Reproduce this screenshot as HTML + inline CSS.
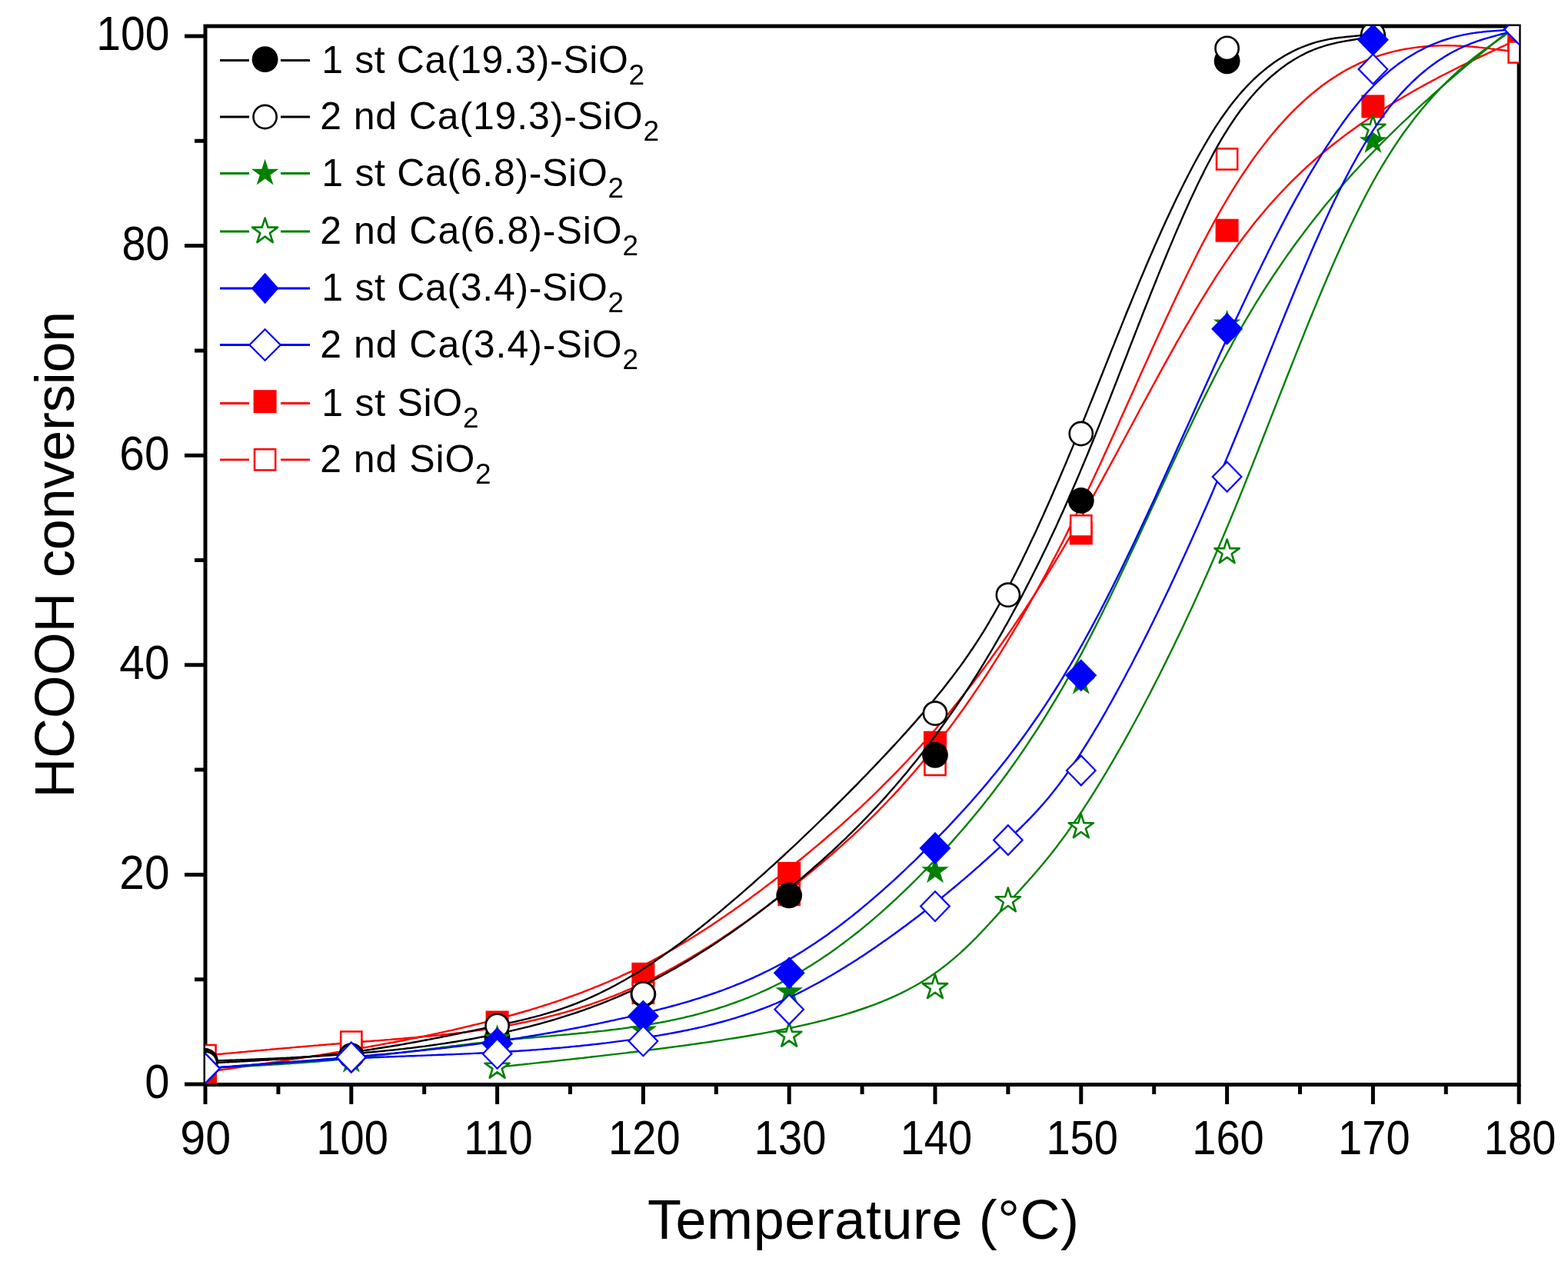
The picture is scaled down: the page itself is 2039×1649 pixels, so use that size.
<!DOCTYPE html><html><head><meta charset="utf-8"><title>HCOOH conversion vs temperature</title><style>html,body{margin:0;padding:0;background:#fff;overflow:hidden;}svg{display:block;}text{font-family:"Liberation Sans",Arial,Helvetica,sans-serif;fill:#000;}</style></head><body>
<svg width="2039" height="1649" viewBox="0 0 2039 1649">
<rect width="2039" height="1649" fill="#fff"/>
<defs><clipPath id="pa"><rect x="267" y="34" width="1708.2" height="1376.5"/></clipPath></defs>
<rect x="267" y="34" width="1708.2" height="1376.5" fill="none" stroke="#000" stroke-width="5"/>
<path d="M240,1410.0 H267 M253,1273.7 H267 M240,1137.4 H267 M253,1001.1 H267 M240,864.8 H267 M253,728.5 H267 M240,592.2 H267 M253,455.9 H267 M240,319.6 H267 M253,183.3 H267 M240,47.0 H267 M267.0,1410 V1436 M361.9,1410 V1423 M456.8,1410 V1436 M551.7,1410 V1423 M646.6,1410 V1436 M741.5,1410 V1423 M836.4,1410 V1436 M931.3,1410 V1423 M1026.2,1410 V1436 M1121.1,1410 V1423 M1216.0,1410 V1436 M1310.9,1410 V1423 M1405.8,1410 V1436 M1500.7,1410 V1423 M1595.6,1410 V1436 M1690.5,1410 V1423 M1785.4,1410 V1436 M1880.3,1410 V1423 M1975.2,1410 V1436" stroke="#000" stroke-width="5" fill="none"/>
<g clip-path="url(#pa)">
<path d="M267.0,1394.4 L267.0,1394.4 L267.0,1394.4 L267.0,1394.4 L267.0,1394.4 L267.0,1394.4 L267.0,1394.4 L267.1,1394.4 L267.1,1394.4 L267.1,1394.4 L267.2,1394.3 L267.3,1394.3 L267.3,1394.3 L267.4,1394.3 L267.5,1394.3 L267.7,1394.3 L267.8,1394.3 L268.0,1394.2 L268.1,1394.2 L268.3,1394.2 L268.6,1394.2 L268.8,1394.1 L269.1,1394.1 L269.4,1394.0 L269.7,1394.0 L270.1,1393.9 L270.4,1393.9 L270.9,1393.8 L271.3,1393.8 L271.8,1393.7 L272.3,1393.6 L272.8,1393.5 L273.4,1393.4 L274.0,1393.4 L274.7,1393.3 L275.4,1393.2 L276.1,1393.1 L276.9,1392.9 L277.7,1392.8 L278.6,1392.7 L279.5,1392.6 L280.5,1392.4 L281.5,1392.3 L282.6,1392.1 L283.7,1392.0 L284.9,1391.8 L286.1,1391.6 L287.3,1391.4 L288.7,1391.2 L290.0,1391.0 L291.5,1390.8 L293.0,1390.6 L294.5,1390.4 L296.2,1390.2 L297.8,1389.9 L299.6,1389.7 L301.4,1389.4 L303.3,1389.1 L305.2,1388.9 L307.2,1388.6 L309.2,1388.3 L311.4,1388.0 L313.5,1387.6 L315.7,1387.3 L318.0,1387.0 L320.3,1386.6 L322.7,1386.3 L325.1,1385.9 L327.6,1385.6 L330.2,1385.2 L332.7,1384.8 L335.3,1384.4 L338.0,1384.0 L340.7,1383.6 L343.5,1383.2 L346.2,1382.8 L349.1,1382.4 L351.9,1382.0 L354.9,1381.5 L357.8,1381.1 L360.8,1380.6 L363.8,1380.2 L366.8,1379.7 L369.9,1379.3 L373.0,1378.8 L376.1,1378.3 L379.3,1377.8 L382.5,1377.3 L385.7,1376.8 L389.0,1376.3 L392.2,1375.8 L395.5,1375.3 L398.8,1374.8 L402.1,1374.2 L405.5,1373.7 L408.8,1373.2 L412.2,1372.6 L415.6,1372.1 L419.0,1371.5 L422.5,1371.0 L425.9,1370.4 L429.3,1369.9 L432.8,1369.3 L436.2,1368.7 L439.7,1368.1 L443.2,1367.6 L446.7,1367.0 L450.1,1366.4 L453.6,1365.8 L457.1,1365.2 L460.6,1364.6 L464.1,1364.0 L467.6,1363.4 L471.1,1362.8 L474.5,1362.2 L478.0,1361.6 L481.5,1360.9 L485.0,1360.3 L488.5,1359.7 L492.0,1359.1 L495.5,1358.4 L498.9,1357.8 L502.4,1357.1 L505.9,1356.5 L509.4,1355.8 L512.9,1355.2 L516.4,1354.5 L519.9,1353.8 L523.3,1353.2 L526.8,1352.5 L530.3,1351.8 L533.8,1351.1 L537.3,1350.4 L540.8,1349.7 L544.3,1349.0 L547.7,1348.3 L551.2,1347.6 L554.7,1346.9 L558.2,1346.1 L561.7,1345.4 L565.2,1344.6 L568.7,1343.9 L572.1,1343.1 L575.6,1342.4 L579.1,1341.6 L582.6,1340.8 L586.1,1340.1 L589.6,1339.3 L593.1,1338.5 L596.5,1337.7 L600.0,1336.9 L603.5,1336.0 L607.0,1335.2 L610.5,1334.4 L614.0,1333.5 L617.4,1332.7 L620.9,1331.8 L624.4,1331.0 L627.9,1330.1 L631.4,1329.2 L634.9,1328.3 L638.4,1327.4 L641.8,1326.5 L645.3,1325.6 L648.8,1324.7 L652.3,1323.8 L655.8,1322.8 L659.3,1321.9 L662.8,1320.9 L666.2,1320.0 L669.7,1319.0 L673.2,1318.0 L676.7,1317.0 L680.2,1316.0 L683.7,1315.0 L687.2,1314.0 L690.6,1312.9 L694.1,1311.9 L697.6,1310.8 L701.1,1309.7 L704.6,1308.6 L708.1,1307.5 L711.6,1306.4 L715.0,1305.3 L718.5,1304.1 L722.0,1303.0 L725.5,1301.8 L729.0,1300.6 L732.5,1299.4 L736.0,1298.2 L739.4,1297.0 L742.9,1295.7 L746.4,1294.5 L749.9,1293.2 L753.4,1291.9 L756.9,1290.6 L760.4,1289.2 L763.8,1287.9 L767.3,1286.5 L770.8,1285.1 L774.3,1283.7 L777.8,1282.3 L781.3,1280.9 L784.8,1279.4 L788.2,1278.0 L791.7,1276.5 L795.2,1274.9 L798.7,1273.4 L802.2,1271.9 L805.7,1270.3 L809.1,1268.7 L812.6,1267.1 L816.1,1265.4 L819.6,1263.8 L823.1,1262.1 L826.6,1260.4 L830.1,1258.7 L833.5,1256.9 L837.0,1255.1 L840.5,1253.4 L844.0,1251.5 L847.5,1249.7 L851.0,1247.8 L854.5,1246.0 L857.9,1244.0 L861.4,1242.1 L864.9,1240.2 L868.4,1238.2 L871.9,1236.2 L875.4,1234.2 L878.9,1232.2 L882.3,1230.1 L885.8,1228.0 L889.3,1225.9 L892.8,1223.8 L896.3,1221.7 L899.8,1219.5 L903.3,1217.3 L906.7,1215.2 L910.2,1212.9 L913.7,1210.7 L917.2,1208.5 L920.7,1206.2 L924.2,1203.9 L927.7,1201.6 L931.1,1199.3 L934.6,1196.9 L938.1,1194.5 L941.6,1192.2 L945.1,1189.8 L948.6,1187.3 L952.1,1184.9 L955.5,1182.5 L959.0,1180.0 L962.5,1177.5 L966.0,1175.0 L969.5,1172.5 L973.0,1170.0 L976.5,1167.4 L979.9,1164.8 L983.4,1162.3 L986.9,1159.7 L990.4,1157.1 L993.9,1154.4 L997.4,1151.8 L1000.9,1149.1 L1004.3,1146.5 L1007.8,1143.8 L1011.3,1141.1 L1014.8,1138.4 L1018.3,1135.6 L1021.8,1132.9 L1025.2,1130.1 L1028.7,1127.4 L1032.2,1124.6 L1035.7,1121.8 L1039.2,1119.0 L1042.7,1116.2 L1046.2,1113.3 L1049.6,1110.5 L1053.1,1107.6 L1056.6,1104.7 L1060.1,1101.8 L1063.6,1098.9 L1067.1,1096.0 L1070.6,1093.0 L1074.0,1090.0 L1077.5,1087.0 L1081.0,1084.0 L1084.5,1081.0 L1088.0,1078.0 L1091.5,1074.9 L1095.0,1071.8 L1098.4,1068.7 L1101.9,1065.6 L1105.4,1062.4 L1108.9,1059.2 L1112.4,1056.0 L1115.9,1052.8 L1119.4,1049.6 L1122.8,1046.3 L1126.3,1043.0 L1129.8,1039.7 L1133.3,1036.3 L1136.8,1033.0 L1140.3,1029.6 L1143.8,1026.2 L1147.2,1022.7 L1150.7,1019.2 L1154.2,1015.7 L1157.7,1012.2 L1161.2,1008.7 L1164.7,1005.1 L1168.2,1001.5 L1171.6,997.8 L1175.1,994.2 L1178.6,990.5 L1182.1,986.7 L1185.6,983.0 L1189.1,979.2 L1192.6,975.3 L1196.0,971.5 L1199.5,967.6 L1203.0,963.7 L1206.5,959.7 L1210.0,955.7 L1213.5,951.7 L1217.0,947.7 L1220.4,943.6 L1223.9,939.5 L1227.4,935.3 L1230.9,931.1 L1234.4,926.9 L1237.9,922.6 L1241.3,918.3 L1244.8,914.0 L1248.3,909.6 L1251.8,905.2 L1255.3,900.8 L1258.8,896.3 L1262.3,891.8 L1265.7,887.2 L1269.2,882.6 L1272.7,878.0 L1276.2,873.3 L1279.7,868.7 L1283.2,863.9 L1286.7,859.2 L1290.1,854.3 L1293.6,849.5 L1297.1,844.6 L1300.6,839.7 L1304.1,834.8 L1307.6,829.8 L1311.1,824.7 L1314.5,819.7 L1318.0,814.6 L1321.5,809.4 L1325.0,804.2 L1328.5,799.0 L1332.0,793.8 L1335.5,788.5 L1338.9,783.1 L1342.4,777.8 L1345.9,772.4 L1349.4,766.9 L1352.9,761.4 L1356.4,755.9 L1359.9,750.3 L1363.3,744.7 L1366.8,739.1 L1370.3,733.4 L1373.8,727.6 L1377.3,721.9 L1380.8,716.1 L1384.3,710.2 L1387.7,704.3 L1391.2,698.4 L1394.7,692.5 L1398.2,686.4 L1401.7,680.4 L1405.2,674.3 L1408.7,668.2 L1412.1,662.0 L1415.6,655.8 L1419.1,649.6 L1422.6,643.3 L1426.1,637.0 L1429.6,630.7 L1433.1,624.3 L1436.5,617.9 L1440.0,611.5 L1443.5,605.1 L1447.0,598.7 L1450.5,592.2 L1454.0,585.7 L1457.4,579.3 L1460.9,572.8 L1464.4,566.3 L1467.9,559.8 L1471.4,553.3 L1474.9,546.8 L1478.4,540.3 L1481.8,533.8 L1485.3,527.3 L1488.8,520.8 L1492.3,514.4 L1495.8,507.9 L1499.3,501.5 L1502.8,495.1 L1506.2,488.7 L1509.7,482.3 L1513.2,475.9 L1516.7,469.6 L1520.2,463.3 L1523.7,457.1 L1527.2,450.8 L1530.6,444.6 L1534.1,438.5 L1537.6,432.4 L1541.1,426.3 L1544.6,420.3 L1548.1,414.3 L1551.6,408.3 L1555.0,402.4 L1558.5,396.6 L1562.0,390.8 L1565.5,385.1 L1569.0,379.5 L1572.5,373.9 L1576.0,368.3 L1579.4,362.8 L1582.9,357.4 L1586.4,352.1 L1589.9,346.9 L1593.4,341.7 L1596.9,336.6 L1600.4,331.5 L1603.8,326.6 L1607.3,321.7 L1610.8,316.9 L1614.3,312.2 L1617.8,307.5 L1621.3,302.9 L1624.8,298.4 L1628.2,294.0 L1631.7,289.6 L1635.2,285.3 L1638.7,281.1 L1642.2,276.9 L1645.7,272.8 L1649.1,268.8 L1652.6,264.8 L1656.1,260.9 L1659.6,257.0 L1663.1,253.2 L1666.6,249.5 L1670.1,245.8 L1673.5,242.2 L1677.0,238.6 L1680.5,235.1 L1684.0,231.7 L1687.5,228.3 L1691.0,224.9 L1694.5,221.7 L1697.9,218.4 L1701.4,215.2 L1704.9,212.1 L1708.4,209.0 L1711.9,205.9 L1715.4,202.9 L1718.9,199.9 L1722.3,197.0 L1725.8,194.2 L1729.3,191.3 L1732.8,188.5 L1736.3,185.8 L1739.8,183.1 L1743.3,180.4 L1746.7,177.7 L1750.2,175.1 L1753.7,172.6 L1757.2,170.0 L1760.7,167.5 L1764.2,165.0 L1767.7,162.6 L1771.1,160.2 L1774.6,157.8 L1778.1,155.5 L1781.6,153.1 L1785.1,150.8 L1788.6,148.5 L1792.1,146.3 L1795.5,144.1 L1799.0,141.9 L1802.5,139.7 L1806.0,137.5 L1809.4,135.4 L1812.9,133.3 L1816.3,131.2 L1819.7,129.2 L1823.2,127.2 L1826.6,125.2 L1830.0,123.2 L1833.4,121.2 L1836.7,119.3 L1840.1,117.4 L1843.4,115.5 L1846.7,113.7 L1850.0,111.9 L1853.2,110.1 L1856.5,108.3 L1859.7,106.6 L1862.9,104.9 L1866.1,103.2 L1869.2,101.5 L1872.3,99.9 L1875.4,98.3 L1878.4,96.7 L1881.4,95.2 L1884.4,93.7 L1887.3,92.2 L1890.3,90.7 L1893.1,89.3 L1896.0,87.9 L1898.7,86.5 L1901.5,85.1 L1904.2,83.8 L1906.9,82.5 L1909.5,81.2 L1912.0,80.0 L1914.6,78.8 L1917.1,77.6 L1919.5,76.4 L1921.9,75.3 L1924.2,74.2 L1926.5,73.1 L1928.7,72.1 L1930.8,71.1 L1933.0,70.1 L1935.0,69.1 L1937.0,68.2 L1938.9,67.3 L1940.8,66.4 L1942.6,65.6 L1944.4,64.8 L1946.0,64.0 L1947.7,63.3 L1949.2,62.5 L1950.7,61.8 L1952.2,61.2 L1953.5,60.5 L1954.9,59.9 L1956.1,59.3 L1957.3,58.8 L1958.5,58.2 L1959.6,57.7 L1960.7,57.2 L1961.7,56.8 L1962.7,56.3 L1963.6,55.9 L1964.5,55.5 L1965.3,55.1 L1966.1,54.7 L1966.8,54.4 L1967.5,54.1 L1968.2,53.8 L1968.8,53.5 L1969.4,53.2 L1969.9,53.0 L1970.4,52.7 L1970.9,52.5 L1971.3,52.3 L1971.8,52.1 L1972.1,51.9 L1972.5,51.8 L1972.8,51.6 L1973.1,51.5 L1973.4,51.3 L1973.6,51.2 L1973.9,51.1 L1974.1,51.0 L1974.2,50.9 L1974.4,50.9 L1974.5,50.8 L1974.7,50.8 L1974.8,50.7 L1974.9,50.7 L1974.9,50.6 L1975.0,50.6 L1975.1,50.6 L1975.1,50.5 L1975.1,50.5 L1975.2,50.5 L1975.2,50.5 L1975.2,50.5 L1975.2,50.5 L1975.2,50.5 L1975.2,50.5 L1975.2,50.5" fill="none" stroke="#ff0000" stroke-width="2.4" stroke-linejoin="round"/>
<rect x="252.0" y="1379.4" width="30" height="30" fill="#ff0000"/>
<rect x="441.8" y="1351.9" width="30" height="30" fill="#ff0000"/>
<rect x="631.6" y="1314.5" width="30" height="30" fill="#ff0000"/>
<rect x="821.4" y="1251.8" width="30" height="30" fill="#ff0000"/>
<rect x="1011.2" y="1120.9" width="30" height="30" fill="#ff0000"/>
<rect x="1201.0" y="950.8" width="30" height="30" fill="#ff0000"/>
<rect x="1390.8" y="678.4" width="30" height="30" fill="#ff0000"/>
<rect x="1580.6" y="284.7" width="30" height="30" fill="#ff0000"/>
<rect x="1770.4" y="123.4" width="30" height="30" fill="#ff0000"/>
<rect x="1960.2" y="35.5" width="30" height="30" fill="#ff0000"/>
<path d="M267.0,1372.6 L267.0,1372.6 L267.0,1372.6 L267.0,1372.6 L267.0,1372.6 L267.0,1372.6 L267.0,1372.6 L267.1,1372.6 L267.1,1372.6 L267.1,1372.6 L267.2,1372.6 L267.3,1372.6 L267.3,1372.6 L267.4,1372.5 L267.5,1372.5 L267.7,1372.5 L267.8,1372.5 L268.0,1372.5 L268.1,1372.5 L268.3,1372.5 L268.6,1372.4 L268.8,1372.4 L269.1,1372.4 L269.4,1372.4 L269.7,1372.3 L270.1,1372.3 L270.4,1372.3 L270.9,1372.2 L271.3,1372.2 L271.8,1372.1 L272.3,1372.1 L272.8,1372.0 L273.4,1372.0 L274.0,1371.9 L274.7,1371.9 L275.4,1371.8 L276.1,1371.7 L276.9,1371.7 L277.7,1371.6 L278.6,1371.5 L279.5,1371.4 L280.5,1371.3 L281.5,1371.2 L282.6,1371.1 L283.7,1371.0 L284.9,1370.9 L286.1,1370.8 L287.3,1370.7 L288.7,1370.6 L290.0,1370.5 L291.5,1370.3 L293.0,1370.2 L294.5,1370.0 L296.2,1369.9 L297.8,1369.7 L299.6,1369.6 L301.4,1369.4 L303.3,1369.2 L305.2,1369.1 L307.2,1368.9 L309.2,1368.7 L311.4,1368.5 L313.5,1368.3 L315.7,1368.1 L318.0,1367.9 L320.3,1367.7 L322.7,1367.4 L325.1,1367.2 L327.6,1367.0 L330.2,1366.8 L332.7,1366.5 L335.3,1366.3 L338.0,1366.1 L340.7,1365.8 L343.5,1365.6 L346.2,1365.3 L349.1,1365.1 L351.9,1364.8 L354.9,1364.5 L357.8,1364.3 L360.8,1364.0 L363.8,1363.7 L366.8,1363.5 L369.9,1363.2 L373.0,1362.9 L376.1,1362.7 L379.3,1362.4 L382.5,1362.1 L385.7,1361.8 L389.0,1361.5 L392.2,1361.3 L395.5,1361.0 L398.8,1360.7 L402.1,1360.4 L405.5,1360.1 L408.8,1359.8 L412.2,1359.6 L415.6,1359.3 L419.0,1359.0 L422.5,1358.7 L425.9,1358.4 L429.3,1358.1 L432.8,1357.8 L436.2,1357.6 L439.7,1357.3 L443.2,1357.0 L446.7,1356.7 L450.1,1356.4 L453.6,1356.2 L457.1,1355.9 L460.6,1355.6 L464.1,1355.3 L467.6,1355.1 L471.1,1354.8 L474.5,1354.5 L478.0,1354.2 L481.5,1354.0 L485.0,1353.7 L488.5,1353.4 L492.0,1353.2 L495.5,1352.9 L498.9,1352.6 L502.4,1352.3 L505.9,1352.1 L509.4,1351.8 L512.9,1351.5 L516.4,1351.2 L519.9,1350.9 L523.3,1350.6 L526.8,1350.3 L530.3,1350.0 L533.8,1349.7 L537.3,1349.4 L540.8,1349.1 L544.3,1348.8 L547.7,1348.5 L551.2,1348.1 L554.7,1347.8 L558.2,1347.5 L561.7,1347.1 L565.2,1346.8 L568.7,1346.4 L572.1,1346.1 L575.6,1345.7 L579.1,1345.3 L582.6,1344.9 L586.1,1344.5 L589.6,1344.1 L593.1,1343.7 L596.5,1343.3 L600.0,1342.9 L603.5,1342.4 L607.0,1342.0 L610.5,1341.5 L614.0,1341.0 L617.4,1340.5 L620.9,1340.1 L624.4,1339.6 L627.9,1339.0 L631.4,1338.5 L634.9,1338.0 L638.4,1337.4 L641.8,1336.9 L645.3,1336.3 L648.8,1335.7 L652.3,1335.1 L655.8,1334.5 L659.3,1333.9 L662.8,1333.2 L666.2,1332.6 L669.7,1331.9 L673.2,1331.2 L676.7,1330.5 L680.2,1329.8 L683.7,1329.1 L687.2,1328.3 L690.6,1327.5 L694.1,1326.8 L697.6,1326.0 L701.1,1325.2 L704.6,1324.3 L708.1,1323.5 L711.6,1322.6 L715.0,1321.7 L718.5,1320.8 L722.0,1319.9 L725.5,1319.0 L729.0,1318.0 L732.5,1317.1 L736.0,1316.1 L739.4,1315.1 L742.9,1314.0 L746.4,1313.0 L749.9,1311.9 L753.4,1310.8 L756.9,1309.7 L760.4,1308.6 L763.8,1307.5 L767.3,1306.3 L770.8,1305.1 L774.3,1303.9 L777.8,1302.7 L781.3,1301.4 L784.8,1300.1 L788.2,1298.8 L791.7,1297.5 L795.2,1296.2 L798.7,1294.8 L802.2,1293.4 L805.7,1292.0 L809.1,1290.6 L812.6,1289.1 L816.1,1287.6 L819.6,1286.1 L823.1,1284.6 L826.6,1283.0 L830.1,1281.4 L833.5,1279.8 L837.0,1278.2 L840.5,1276.5 L844.0,1274.8 L847.5,1273.1 L851.0,1271.4 L854.5,1269.6 L857.9,1267.8 L861.4,1266.0 L864.9,1264.2 L868.4,1262.3 L871.9,1260.4 L875.4,1258.5 L878.9,1256.6 L882.3,1254.6 L885.8,1252.6 L889.3,1250.6 L892.8,1248.6 L896.3,1246.6 L899.8,1244.5 L903.3,1242.4 L906.7,1240.3 L910.2,1238.2 L913.7,1236.0 L917.2,1233.9 L920.7,1231.7 L924.2,1229.4 L927.7,1227.2 L931.1,1225.0 L934.6,1222.7 L938.1,1220.4 L941.6,1218.1 L945.1,1215.7 L948.6,1213.4 L952.1,1211.0 L955.5,1208.6 L959.0,1206.2 L962.5,1203.8 L966.0,1201.4 L969.5,1198.9 L973.0,1196.4 L976.5,1193.9 L979.9,1191.4 L983.4,1188.9 L986.9,1186.3 L990.4,1183.8 L993.9,1181.2 L997.4,1178.6 L1000.9,1176.0 L1004.3,1173.4 L1007.8,1170.7 L1011.3,1168.1 L1014.8,1165.4 L1018.3,1162.7 L1021.8,1160.0 L1025.2,1157.3 L1028.7,1154.6 L1032.2,1151.8 L1035.7,1149.1 L1039.2,1146.3 L1042.7,1143.5 L1046.2,1140.7 L1049.6,1137.9 L1053.1,1135.0 L1056.6,1132.2 L1060.1,1129.3 L1063.6,1126.4 L1067.1,1123.5 L1070.6,1120.5 L1074.0,1117.6 L1077.5,1114.6 L1081.0,1111.6 L1084.5,1108.5 L1088.0,1105.5 L1091.5,1102.4 L1095.0,1099.3 L1098.4,1096.2 L1101.9,1093.0 L1105.4,1089.8 L1108.9,1086.6 L1112.4,1083.4 L1115.9,1080.1 L1119.4,1076.8 L1122.8,1073.5 L1126.3,1070.1 L1129.8,1066.7 L1133.3,1063.3 L1136.8,1059.8 L1140.3,1056.3 L1143.8,1052.8 L1147.2,1049.2 L1150.7,1045.6 L1154.2,1042.0 L1157.7,1038.3 L1161.2,1034.6 L1164.7,1030.9 L1168.2,1027.1 L1171.6,1023.2 L1175.1,1019.4 L1178.6,1015.5 L1182.1,1011.5 L1185.6,1007.5 L1189.1,1003.5 L1192.6,999.4 L1196.0,995.3 L1199.5,991.2 L1203.0,987.0 L1206.5,982.7 L1210.0,978.4 L1213.5,974.1 L1217.0,969.7 L1220.4,965.2 L1223.9,960.7 L1227.4,956.2 L1230.9,951.6 L1234.4,947.0 L1237.9,942.3 L1241.3,937.6 L1244.8,932.8 L1248.3,928.0 L1251.8,923.1 L1255.3,918.2 L1258.8,913.2 L1262.3,908.2 L1265.7,903.1 L1269.2,898.0 L1272.7,892.8 L1276.2,887.6 L1279.7,882.3 L1283.2,877.0 L1286.7,871.6 L1290.1,866.2 L1293.6,860.7 L1297.1,855.2 L1300.6,849.6 L1304.1,843.9 L1307.6,838.3 L1311.1,832.5 L1314.5,826.7 L1318.0,820.9 L1321.5,815.0 L1325.0,809.1 L1328.5,803.1 L1332.0,797.0 L1335.5,790.9 L1338.9,784.7 L1342.4,778.5 L1345.9,772.3 L1349.4,766.0 L1352.9,759.6 L1356.4,753.2 L1359.9,746.7 L1363.3,740.2 L1366.8,733.6 L1370.3,726.9 L1373.8,720.2 L1377.3,713.5 L1380.8,706.7 L1384.3,699.8 L1387.7,692.9 L1391.2,685.9 L1394.7,678.9 L1398.2,671.8 L1401.7,664.7 L1405.2,657.5 L1408.7,650.2 L1412.1,642.9 L1415.6,635.6 L1419.1,628.2 L1422.6,620.7 L1426.1,613.3 L1429.6,605.7 L1433.1,598.2 L1436.5,590.6 L1440.0,582.9 L1443.5,575.3 L1447.0,567.6 L1450.5,559.9 L1454.0,552.2 L1457.4,544.5 L1460.9,536.7 L1464.4,529.0 L1467.9,521.2 L1471.4,513.5 L1474.9,505.7 L1478.4,497.9 L1481.8,490.2 L1485.3,482.5 L1488.8,474.7 L1492.3,467.0 L1495.8,459.3 L1499.3,451.6 L1502.8,444.0 L1506.2,436.3 L1509.7,428.7 L1513.2,421.2 L1516.7,413.6 L1520.2,406.2 L1523.7,398.7 L1527.2,391.3 L1530.6,383.9 L1534.1,376.6 L1537.6,369.4 L1541.1,362.2 L1544.6,355.0 L1548.1,348.0 L1551.6,341.0 L1555.0,334.0 L1558.5,327.1 L1562.0,320.3 L1565.5,313.6 L1569.0,307.0 L1572.5,300.4 L1576.0,294.0 L1579.4,287.6 L1582.9,281.3 L1586.4,275.1 L1589.9,269.0 L1593.4,263.0 L1596.9,257.1 L1600.4,251.3 L1603.8,245.6 L1607.3,240.1 L1610.8,234.6 L1614.3,229.2 L1617.8,224.0 L1621.3,218.8 L1624.8,213.7 L1628.2,208.7 L1631.7,203.9 L1635.2,199.1 L1638.7,194.4 L1642.2,189.9 L1645.7,185.4 L1649.1,181.0 L1652.6,176.7 L1656.1,172.5 L1659.6,168.4 L1663.1,164.4 L1666.6,160.4 L1670.1,156.6 L1673.5,152.8 L1677.0,149.2 L1680.5,145.6 L1684.0,142.1 L1687.5,138.7 L1691.0,135.4 L1694.5,132.2 L1697.9,129.0 L1701.4,126.0 L1704.9,123.0 L1708.4,120.1 L1711.9,117.3 L1715.4,114.5 L1718.9,111.8 L1722.3,109.3 L1725.8,106.8 L1729.3,104.3 L1732.8,102.0 L1736.3,99.7 L1739.8,97.5 L1743.3,95.4 L1746.7,93.3 L1750.2,91.3 L1753.7,89.4 L1757.2,87.5 L1760.7,85.8 L1764.2,84.1 L1767.7,82.4 L1771.1,80.8 L1774.6,79.3 L1778.1,77.9 L1781.6,76.5 L1785.1,75.2 L1788.6,74.0 L1792.1,72.8 L1795.5,71.6 L1799.0,70.6 L1802.5,69.6 L1806.0,68.6 L1809.4,67.7 L1812.9,66.9 L1816.3,66.1 L1819.7,65.3 L1823.2,64.6 L1826.6,64.0 L1830.0,63.4 L1833.4,62.9 L1836.7,62.4 L1840.1,61.9 L1843.4,61.5 L1846.7,61.1 L1850.0,60.8 L1853.2,60.5 L1856.5,60.2 L1859.7,60.0 L1862.9,59.8 L1866.1,59.6 L1869.2,59.5 L1872.3,59.4 L1875.4,59.4 L1878.4,59.3 L1881.4,59.3 L1884.4,59.3 L1887.3,59.4 L1890.3,59.4 L1893.1,59.5 L1896.0,59.6 L1898.7,59.7 L1901.5,59.9 L1904.2,60.0 L1906.9,60.2 L1909.5,60.4 L1912.0,60.6 L1914.6,60.8 L1917.1,61.0 L1919.5,61.2 L1921.9,61.4 L1924.2,61.7 L1926.5,61.9 L1928.7,62.2 L1930.8,62.4 L1933.0,62.6 L1935.0,62.9 L1937.0,63.1 L1938.9,63.4 L1940.8,63.6 L1942.6,63.8 L1944.4,64.1 L1946.0,64.3 L1947.7,64.5 L1949.2,64.7 L1950.7,64.9 L1952.2,65.0 L1953.5,65.2 L1954.9,65.4 L1956.1,65.5 L1957.3,65.7 L1958.5,65.8 L1959.6,66.0 L1960.7,66.1 L1961.7,66.2 L1962.7,66.4 L1963.6,66.5 L1964.5,66.6 L1965.3,66.7 L1966.1,66.8 L1966.8,66.9 L1967.5,67.0 L1968.2,67.1 L1968.8,67.1 L1969.4,67.2 L1969.9,67.3 L1970.4,67.4 L1970.9,67.4 L1971.3,67.5 L1971.8,67.5 L1972.1,67.6 L1972.5,67.6 L1972.8,67.7 L1973.1,67.7 L1973.4,67.7 L1973.6,67.8 L1973.9,67.8 L1974.1,67.8 L1974.2,67.8 L1974.4,67.9 L1974.5,67.9 L1974.7,67.9 L1974.8,67.9 L1974.9,67.9 L1974.9,67.9 L1975.0,67.9 L1975.1,67.9 L1975.1,67.9 L1975.1,68.0 L1975.2,68.0 L1975.2,68.0 L1975.2,68.0 L1975.2,68.0 L1975.2,68.0 L1975.2,68.0 L1975.2,68.0" fill="none" stroke="#ff0000" stroke-width="2.4" stroke-linejoin="round"/>
<rect x="253.4" y="1359.0" width="27.2" height="27.2" fill="#fff" stroke="#ff0000" stroke-width="2.5"/>
<rect x="443.2" y="1341.5" width="27.2" height="27.2" fill="#fff" stroke="#ff0000" stroke-width="2.5"/>
<rect x="633.0" y="1328.9" width="27.2" height="27.2" fill="#fff" stroke="#ff0000" stroke-width="2.5"/>
<rect x="822.8" y="1277.6" width="27.2" height="27.2" fill="#fff" stroke="#ff0000" stroke-width="2.5"/>
<rect x="1012.6" y="1149.8" width="27.2" height="27.2" fill="#fff" stroke="#ff0000" stroke-width="2.5"/>
<rect x="1202.4" y="980.9" width="27.2" height="27.2" fill="#fff" stroke="#ff0000" stroke-width="2.5"/>
<rect x="1392.2" y="670.3" width="27.2" height="27.2" fill="#fff" stroke="#ff0000" stroke-width="2.5"/>
<rect x="1582.0" y="193.3" width="27.2" height="27.2" fill="#fff" stroke="#ff0000" stroke-width="2.5"/>
<rect x="1961.6" y="54.4" width="27.2" height="27.2" fill="#fff" stroke="#ff0000" stroke-width="2.5"/>
<path d="M267.0,1380.0 L267.0,1380.0 L267.0,1380.0 L267.0,1380.0 L267.0,1380.0 L267.0,1380.0 L267.0,1380.0 L267.1,1380.0 L267.1,1380.0 L267.1,1380.0 L267.1,1380.0 L267.2,1380.0 L267.3,1380.0 L267.3,1380.0 L267.4,1380.0 L267.5,1380.0 L267.6,1379.9 L267.7,1379.9 L267.9,1379.9 L268.0,1379.9 L268.2,1379.9 L268.4,1379.9 L268.6,1379.9 L268.8,1379.9 L269.0,1379.9 L269.3,1379.9 L269.6,1379.9 L269.9,1379.9 L270.2,1379.9 L270.6,1379.8 L271.0,1379.8 L271.4,1379.8 L271.8,1379.8 L272.3,1379.8 L272.8,1379.8 L273.3,1379.7 L273.9,1379.7 L274.5,1379.7 L275.1,1379.7 L275.7,1379.7 L276.4,1379.6 L277.1,1379.6 L277.9,1379.6 L278.7,1379.5 L279.5,1379.5 L280.4,1379.5 L281.3,1379.5 L282.3,1379.4 L283.3,1379.4 L284.3,1379.3 L285.4,1379.3 L286.5,1379.3 L287.7,1379.2 L288.9,1379.2 L290.2,1379.1 L291.5,1379.1 L292.8,1379.0 L294.3,1379.0 L295.7,1378.9 L297.2,1378.9 L298.8,1378.8 L300.4,1378.8 L302.1,1378.7 L303.8,1378.6 L305.6,1378.6 L307.4,1378.5 L309.2,1378.4 L311.2,1378.4 L313.1,1378.3 L315.1,1378.2 L317.2,1378.1 L319.3,1378.1 L321.4,1378.0 L323.6,1377.9 L325.8,1377.8 L328.1,1377.7 L330.4,1377.6 L332.7,1377.5 L335.1,1377.4 L337.5,1377.3 L340.0,1377.2 L342.5,1377.1 L345.0,1377.0 L347.5,1376.9 L350.1,1376.8 L352.7,1376.7 L355.4,1376.6 L358.1,1376.4 L360.8,1376.3 L363.5,1376.2 L366.3,1376.0 L369.1,1375.9 L371.9,1375.8 L374.7,1375.6 L377.6,1375.5 L380.5,1375.3 L383.4,1375.2 L386.3,1375.0 L389.2,1374.9 L392.2,1374.7 L395.2,1374.5 L398.2,1374.4 L401.2,1374.2 L404.3,1374.0 L407.3,1373.8 L410.4,1373.7 L413.5,1373.5 L416.6,1373.3 L419.7,1373.1 L422.8,1372.9 L425.9,1372.7 L429.0,1372.5 L432.2,1372.2 L435.3,1372.0 L438.5,1371.8 L441.6,1371.6 L444.8,1371.4 L447.9,1371.1 L451.1,1370.9 L454.3,1370.6 L457.4,1370.4 L460.6,1370.1 L463.8,1369.9 L466.9,1369.6 L470.1,1369.4 L473.3,1369.1 L476.4,1368.8 L479.6,1368.5 L482.8,1368.3 L486.0,1368.0 L489.1,1367.7 L492.3,1367.4 L495.5,1367.1 L498.6,1366.8 L501.8,1366.4 L505.0,1366.1 L508.1,1365.8 L511.3,1365.5 L514.5,1365.1 L517.6,1364.8 L520.8,1364.4 L524.0,1364.1 L527.1,1363.7 L530.3,1363.3 L533.5,1363.0 L536.6,1362.6 L539.8,1362.2 L543.0,1361.8 L546.2,1361.4 L549.3,1361.0 L552.5,1360.6 L555.7,1360.1 L558.8,1359.7 L562.0,1359.3 L565.2,1358.8 L568.3,1358.4 L571.5,1357.9 L574.7,1357.4 L577.8,1357.0 L581.0,1356.5 L584.2,1356.0 L587.3,1355.5 L590.5,1355.0 L593.7,1354.5 L596.9,1353.9 L600.0,1353.4 L603.2,1352.9 L606.4,1352.3 L609.5,1351.8 L612.7,1351.2 L615.9,1350.6 L619.0,1350.0 L622.2,1349.4 L625.4,1348.8 L628.5,1348.2 L631.7,1347.6 L634.9,1347.0 L638.0,1346.3 L641.2,1345.7 L644.4,1345.0 L647.6,1344.4 L650.7,1343.7 L653.9,1343.0 L657.1,1342.3 L660.2,1341.6 L663.4,1340.9 L666.6,1340.2 L669.7,1339.4 L672.9,1338.7 L676.1,1337.9 L679.2,1337.2 L682.4,1336.4 L685.6,1335.6 L688.7,1334.8 L691.9,1334.0 L695.1,1333.1 L698.2,1332.3 L701.4,1331.5 L704.6,1330.6 L707.8,1329.7 L710.9,1328.8 L714.1,1327.9 L717.3,1327.0 L720.4,1326.1 L723.6,1325.1 L726.8,1324.2 L729.9,1323.2 L733.1,1322.2 L736.3,1321.2 L739.4,1320.2 L742.6,1319.2 L745.8,1318.1 L748.9,1317.1 L752.1,1316.0 L755.3,1314.9 L758.5,1313.8 L761.6,1312.7 L764.8,1311.5 L768.0,1310.4 L771.1,1309.2 L774.3,1308.0 L777.5,1306.8 L780.6,1305.6 L783.8,1304.4 L787.0,1303.1 L790.1,1301.8 L793.3,1300.5 L796.5,1299.2 L799.6,1297.9 L802.8,1296.6 L806.0,1295.2 L809.1,1293.8 L812.3,1292.4 L815.5,1291.0 L818.7,1289.6 L821.8,1288.1 L825.0,1286.7 L828.2,1285.2 L831.3,1283.7 L834.5,1282.1 L837.7,1280.6 L840.8,1279.0 L844.0,1277.4 L847.2,1275.8 L850.3,1274.2 L853.5,1272.6 L856.7,1270.9 L859.8,1269.2 L863.0,1267.5 L866.2,1265.8 L869.4,1264.0 L872.5,1262.3 L875.7,1260.5 L878.9,1258.7 L882.0,1256.8 L885.2,1255.0 L888.4,1253.2 L891.5,1251.3 L894.7,1249.4 L897.9,1247.5 L901.0,1245.5 L904.2,1243.6 L907.4,1241.6 L910.5,1239.6 L913.7,1237.6 L916.9,1235.6 L920.1,1233.6 L923.2,1231.5 L926.4,1229.4 L929.6,1227.3 L932.7,1225.2 L935.9,1223.1 L939.1,1220.9 L942.2,1218.8 L945.4,1216.6 L948.6,1214.4 L951.7,1212.2 L954.9,1210.0 L958.1,1207.7 L961.2,1205.4 L964.4,1203.2 L967.6,1200.9 L970.7,1198.6 L973.9,1196.2 L977.1,1193.9 L980.3,1191.5 L983.4,1189.1 L986.6,1186.7 L989.8,1184.3 L992.9,1181.9 L996.1,1179.4 L999.3,1177.0 L1002.4,1174.5 L1005.6,1172.0 L1008.8,1169.5 L1011.9,1167.0 L1015.1,1164.4 L1018.3,1161.9 L1021.4,1159.3 L1024.6,1156.7 L1027.8,1154.1 L1031.0,1151.5 L1034.1,1148.9 L1037.3,1146.3 L1040.5,1143.6 L1043.6,1140.9 L1046.8,1138.2 L1050.0,1135.5 L1053.1,1132.8 L1056.3,1130.0 L1059.5,1127.2 L1062.6,1124.5 L1065.8,1121.6 L1069.0,1118.8 L1072.1,1116.0 L1075.3,1113.1 L1078.5,1110.2 L1081.7,1107.3 L1084.8,1104.3 L1088.0,1101.4 L1091.2,1098.4 L1094.3,1095.4 L1097.5,1092.3 L1100.7,1089.3 L1103.8,1086.2 L1107.0,1083.1 L1110.2,1079.9 L1113.3,1076.8 L1116.5,1073.6 L1119.7,1070.4 L1122.8,1067.1 L1126.0,1063.8 L1129.2,1060.5 L1132.3,1057.2 L1135.5,1053.8 L1138.7,1050.4 L1141.9,1047.0 L1145.0,1043.6 L1148.2,1040.1 L1151.4,1036.6 L1154.5,1033.0 L1157.7,1029.4 L1160.9,1025.8 L1164.0,1022.2 L1167.2,1018.5 L1170.4,1014.8 L1173.5,1011.0 L1176.7,1007.2 L1179.9,1003.4 L1183.0,999.5 L1186.2,995.6 L1189.4,991.7 L1192.6,987.7 L1195.7,983.7 L1198.9,979.7 L1202.1,975.6 L1205.2,971.4 L1208.4,967.3 L1211.6,963.1 L1214.7,958.8 L1217.9,954.5 L1221.1,950.2 L1224.2,945.8 L1227.4,941.4 L1230.6,936.9 L1233.7,932.4 L1236.9,927.9 L1240.1,923.3 L1243.3,918.7 L1246.4,914.0 L1249.6,909.3 L1252.8,904.5 L1255.9,899.7 L1259.1,894.8 L1262.3,889.9 L1265.4,884.9 L1268.6,879.9 L1271.8,874.9 L1274.9,869.8 L1278.1,864.6 L1281.3,859.4 L1284.4,854.2 L1287.6,848.9 L1290.8,843.5 L1293.9,838.1 L1297.1,832.6 L1300.3,827.1 L1303.5,821.6 L1306.6,815.9 L1309.8,810.3 L1313.0,804.5 L1316.1,798.8 L1319.3,792.9 L1322.5,787.0 L1325.6,781.1 L1328.8,775.1 L1332.0,769.0 L1335.1,762.9 L1338.3,756.8 L1341.5,750.5 L1344.6,744.2 L1347.8,737.9 L1351.0,731.5 L1354.2,725.0 L1357.3,718.5 L1360.5,711.9 L1363.7,705.3 L1366.8,698.5 L1370.0,691.8 L1373.2,684.9 L1376.3,678.0 L1379.5,671.1 L1382.7,664.1 L1385.8,657.0 L1389.0,649.8 L1392.2,642.6 L1395.3,635.3 L1398.5,628.0 L1401.7,620.6 L1404.8,613.1 L1408.0,605.5 L1411.2,597.9 L1414.4,590.3 L1417.5,582.5 L1420.7,574.7 L1423.9,566.9 L1427.0,559.0 L1430.2,551.1 L1433.4,543.1 L1436.5,535.2 L1439.7,527.1 L1442.9,519.1 L1446.0,511.0 L1449.2,502.9 L1452.4,494.8 L1455.5,486.6 L1458.7,478.5 L1461.9,470.3 L1465.1,462.2 L1468.2,454.0 L1471.4,445.9 L1474.6,437.7 L1477.7,429.6 L1480.9,421.5 L1484.1,413.4 L1487.2,405.3 L1490.4,397.3 L1493.6,389.3 L1496.7,381.3 L1499.9,373.4 L1503.1,365.5 L1506.2,357.6 L1509.4,349.8 L1512.6,342.0 L1515.8,334.3 L1518.9,326.7 L1522.1,319.1 L1525.3,311.6 L1528.4,304.1 L1531.6,296.8 L1534.8,289.5 L1537.9,282.2 L1541.1,275.1 L1544.3,268.1 L1547.4,261.1 L1550.6,254.3 L1553.8,247.5 L1556.9,240.8 L1560.1,234.3 L1563.3,227.9 L1566.4,221.5 L1569.6,215.3 L1572.8,209.2 L1576.0,203.3 L1579.1,197.4 L1582.3,191.7 L1585.5,186.2 L1588.6,180.7 L1591.8,175.4 L1595.0,170.3 L1598.1,165.3 L1601.3,160.5 L1604.5,155.8 L1607.6,151.2 L1610.8,146.8 L1613.9,142.5 L1617.1,138.4 L1620.2,134.4 L1623.4,130.5 L1626.5,126.8 L1629.6,123.2 L1632.7,119.7 L1635.8,116.3 L1638.9,113.1 L1642.0,109.9 L1645.1,106.9 L1648.1,104.0 L1651.2,101.2 L1654.2,98.5 L1657.2,96.0 L1660.2,93.5 L1663.2,91.1 L1666.1,88.9 L1669.0,86.7 L1671.9,84.6 L1674.8,82.6 L1677.7,80.7 L1680.5,78.9 L1683.3,77.2 L1686.1,75.5 L1688.9,74.0 L1691.6,72.5 L1694.3,71.1 L1697.0,69.7 L1699.7,68.4 L1702.3,67.2 L1704.9,66.1 L1707.4,65.0 L1709.9,64.0 L1712.4,63.1 L1714.9,62.2 L1717.3,61.3 L1719.7,60.6 L1722.0,59.8 L1724.3,59.1 L1726.6,58.5 L1728.8,57.9 L1731.0,57.3 L1733.1,56.8 L1735.2,56.3 L1737.3,55.8 L1739.3,55.4 L1741.2,55.0 L1743.2,54.6 L1745.0,54.3 L1746.8,53.9 L1748.6,53.6 L1750.3,53.3 L1752.0,53.0 L1753.6,52.8 L1755.2,52.5 L1756.7,52.2 L1758.1,52.0 L1759.6,51.8 L1760.9,51.5 L1762.2,51.3 L1763.5,51.1 L1764.7,50.9 L1765.9,50.7 L1767.0,50.5 L1768.1,50.3 L1769.1,50.1 L1770.1,50.0 L1771.1,49.8 L1772.0,49.7 L1772.9,49.5 L1773.7,49.4 L1774.5,49.2 L1775.3,49.1 L1776.0,49.0 L1776.7,48.9 L1777.3,48.8 L1777.9,48.7 L1778.5,48.6 L1779.1,48.5 L1779.6,48.4 L1780.1,48.3 L1780.6,48.2 L1781.0,48.1 L1781.4,48.1 L1781.8,48.0 L1782.2,47.9 L1782.5,47.9 L1782.8,47.8 L1783.1,47.8 L1783.4,47.7 L1783.6,47.7 L1783.8,47.7 L1784.0,47.6 L1784.2,47.6 L1784.4,47.6 L1784.5,47.5 L1784.7,47.5 L1784.8,47.5 L1784.9,47.5 L1785.0,47.5 L1785.1,47.5 L1785.1,47.4 L1785.2,47.4 L1785.3,47.4 L1785.3,47.4 L1785.3,47.4 L1785.3,47.4 L1785.4,47.4 L1785.4,47.4 L1785.4,47.4 L1785.4,47.4 L1785.4,47.4 L1785.4,47.4 L1785.4,47.4" fill="none" stroke="#000000" stroke-width="2.4" stroke-linejoin="round"/>
<circle cx="267.0" cy="1380.0" r="16.9" fill="#000"/>
<circle cx="456.8" cy="1373.1" r="16.9" fill="#000"/>
<circle cx="646.6" cy="1350.3" r="16.9" fill="#000"/>
<circle cx="836.4" cy="1293.1" r="16.9" fill="#000"/>
<circle cx="1026.2" cy="1164.4" r="16.9" fill="#000"/>
<circle cx="1216.0" cy="981.8" r="16.9" fill="#000"/>
<circle cx="1405.8" cy="651.0" r="16.9" fill="#000"/>
<circle cx="1595.6" cy="79.3" r="16.9" fill="#000"/>
<circle cx="1785.4" cy="47.4" r="16.9" fill="#000"/>
<path d="M267.0,1382.7 L267.0,1382.7 L267.0,1382.7 L267.0,1382.7 L267.0,1382.7 L267.0,1382.7 L267.0,1382.7 L267.1,1382.7 L267.1,1382.7 L267.1,1382.7 L267.1,1382.7 L267.2,1382.7 L267.3,1382.7 L267.3,1382.7 L267.4,1382.7 L267.5,1382.7 L267.6,1382.7 L267.7,1382.7 L267.9,1382.7 L268.0,1382.7 L268.2,1382.6 L268.4,1382.6 L268.6,1382.6 L268.8,1382.6 L269.0,1382.6 L269.3,1382.6 L269.6,1382.6 L269.9,1382.6 L270.2,1382.5 L270.6,1382.5 L271.0,1382.5 L271.4,1382.5 L271.8,1382.5 L272.3,1382.4 L272.8,1382.4 L273.3,1382.4 L273.9,1382.4 L274.5,1382.3 L275.1,1382.3 L275.7,1382.3 L276.4,1382.2 L277.1,1382.2 L277.9,1382.2 L278.7,1382.1 L279.5,1382.1 L280.4,1382.0 L281.3,1382.0 L282.3,1382.0 L283.3,1381.9 L284.3,1381.9 L285.4,1381.8 L286.5,1381.7 L287.7,1381.7 L288.9,1381.6 L290.2,1381.6 L291.5,1381.5 L292.8,1381.4 L294.3,1381.4 L295.7,1381.3 L297.2,1381.2 L298.8,1381.1 L300.4,1381.1 L302.1,1381.0 L303.8,1380.9 L305.6,1380.8 L307.4,1380.7 L309.2,1380.6 L311.2,1380.5 L313.1,1380.4 L315.1,1380.3 L317.2,1380.2 L319.3,1380.1 L321.4,1380.0 L323.6,1379.9 L325.8,1379.7 L328.1,1379.6 L330.4,1379.5 L332.7,1379.4 L335.1,1379.2 L337.5,1379.1 L340.0,1378.9 L342.5,1378.8 L345.0,1378.6 L347.5,1378.5 L350.1,1378.3 L352.7,1378.1 L355.4,1377.9 L358.1,1377.8 L360.8,1377.6 L363.5,1377.4 L366.3,1377.2 L369.1,1377.0 L371.9,1376.8 L374.7,1376.6 L377.6,1376.3 L380.5,1376.1 L383.4,1375.9 L386.3,1375.7 L389.2,1375.4 L392.2,1375.2 L395.2,1374.9 L398.2,1374.6 L401.2,1374.4 L404.3,1374.1 L407.3,1373.8 L410.4,1373.5 L413.5,1373.2 L416.6,1372.9 L419.7,1372.6 L422.8,1372.3 L425.9,1372.0 L429.0,1371.6 L432.2,1371.3 L435.3,1370.9 L438.5,1370.6 L441.6,1370.2 L444.8,1369.9 L447.9,1369.5 L451.1,1369.1 L454.3,1368.7 L457.4,1368.3 L460.6,1367.9 L463.8,1367.4 L466.9,1367.0 L470.1,1366.6 L473.3,1366.1 L476.4,1365.7 L479.6,1365.2 L482.8,1364.8 L486.0,1364.3 L489.1,1363.8 L492.3,1363.3 L495.5,1362.8 L498.6,1362.3 L501.8,1361.8 L505.0,1361.3 L508.1,1360.8 L511.3,1360.2 L514.5,1359.7 L517.6,1359.2 L520.8,1358.6 L524.0,1358.1 L527.1,1357.5 L530.3,1356.9 L533.5,1356.4 L536.6,1355.8 L539.8,1355.2 L543.0,1354.6 L546.2,1354.0 L549.3,1353.4 L552.5,1352.8 L555.7,1352.2 L558.8,1351.6 L562.0,1351.0 L565.2,1350.4 L568.3,1349.8 L571.5,1349.2 L574.7,1348.5 L577.8,1347.9 L581.0,1347.3 L584.2,1346.6 L587.3,1346.0 L590.5,1345.3 L593.7,1344.7 L596.9,1344.1 L600.0,1343.4 L603.2,1342.7 L606.4,1342.1 L609.5,1341.4 L612.7,1340.8 L615.9,1340.1 L619.0,1339.4 L622.2,1338.8 L625.4,1338.1 L628.5,1337.4 L631.7,1336.8 L634.9,1336.1 L638.0,1335.4 L641.2,1334.8 L644.4,1334.1 L647.6,1333.4 L650.7,1332.7 L653.9,1332.0 L657.1,1331.4 L660.2,1330.7 L663.4,1330.0 L666.6,1329.3 L669.8,1328.6 L673.0,1327.8 L676.2,1327.1 L679.4,1326.4 L682.6,1325.6 L685.8,1324.8 L689.1,1324.0 L692.3,1323.2 L695.6,1322.3 L698.9,1321.4 L702.2,1320.6 L705.5,1319.6 L708.8,1318.7 L712.2,1317.7 L715.5,1316.7 L718.9,1315.7 L722.3,1314.6 L725.7,1313.5 L729.1,1312.3 L732.6,1311.1 L736.1,1309.9 L739.6,1308.6 L743.1,1307.3 L746.7,1306.0 L750.3,1304.6 L753.9,1303.1 L757.5,1301.6 L761.2,1300.1 L764.9,1298.5 L768.7,1296.8 L772.4,1295.1 L776.2,1293.3 L780.1,1291.5 L783.9,1289.6 L787.8,1287.7 L791.8,1285.7 L795.7,1283.6 L799.8,1281.5 L803.8,1279.3 L807.9,1277.0 L812.1,1274.7 L816.2,1272.3 L820.4,1269.8 L824.7,1267.2 L829.0,1264.6 L833.4,1261.9 L837.8,1259.1 L842.2,1256.2 L846.7,1253.3 L851.3,1250.3 L855.9,1247.1 L860.5,1243.9 L865.2,1240.6 L869.9,1237.3 L874.7,1233.8 L879.6,1230.2 L884.5,1226.6 L889.4,1222.9 L894.4,1219.1 L899.4,1215.2 L904.5,1211.2 L909.6,1207.2 L914.7,1203.1 L919.9,1199.0 L925.1,1194.7 L930.3,1190.4 L935.6,1186.1 L940.9,1181.7 L946.2,1177.2 L951.5,1172.7 L956.8,1168.2 L962.1,1163.6 L967.5,1158.9 L972.9,1154.2 L978.3,1149.5 L983.6,1144.7 L989.0,1139.9 L994.4,1135.1 L999.8,1130.2 L1005.2,1125.3 L1010.6,1120.4 L1015.9,1115.5 L1021.3,1110.5 L1026.6,1105.5 L1032.0,1100.6 L1037.3,1095.6 L1042.6,1090.5 L1047.9,1085.5 L1053.1,1080.5 L1058.3,1075.5 L1063.5,1070.5 L1068.7,1065.4 L1073.9,1060.4 L1079.0,1055.4 L1084.0,1050.4 L1089.1,1045.4 L1094.0,1040.5 L1099.0,1035.5 L1103.9,1030.6 L1108.8,1025.7 L1113.6,1020.8 L1118.3,1015.9 L1123.0,1011.1 L1127.7,1006.3 L1132.2,1001.5 L1136.8,996.8 L1141.2,992.1 L1145.6,987.5 L1150.0,982.9 L1154.2,978.4 L1158.4,973.9 L1162.5,969.4 L1166.6,965.0 L1170.5,960.7 L1174.4,956.4 L1178.2,952.2 L1181.9,948.1 L1185.6,943.9 L1189.2,939.9 L1192.7,935.9 L1196.1,931.9 L1199.5,928.0 L1202.8,924.2 L1206.0,920.4 L1209.2,916.6 L1212.3,912.9 L1215.3,909.2 L1218.3,905.6 L1221.2,902.0 L1224.1,898.5 L1226.9,895.0 L1229.6,891.5 L1232.3,888.0 L1235.0,884.6 L1237.6,881.3 L1240.1,877.9 L1242.6,874.6 L1245.0,871.3 L1247.4,868.1 L1249.8,864.9 L1252.1,861.7 L1254.3,858.5 L1256.5,855.4 L1258.7,852.2 L1260.8,849.1 L1262.9,846.0 L1265.0,843.0 L1267.0,839.9 L1269.0,836.9 L1271.0,833.9 L1272.9,830.9 L1274.8,827.9 L1276.7,824.9 L1278.6,821.9 L1280.4,818.9 L1282.2,816.0 L1283.9,813.0 L1285.7,810.1 L1287.4,807.1 L1289.1,804.2 L1290.8,801.3 L1292.5,798.3 L1294.2,795.4 L1295.8,792.4 L1297.5,789.5 L1299.1,786.5 L1300.7,783.6 L1302.3,780.6 L1303.9,777.6 L1305.5,774.7 L1307.1,771.7 L1308.7,768.7 L1310.3,765.6 L1311.9,762.6 L1313.4,759.5 L1315.0,756.5 L1316.6,753.4 L1318.2,750.3 L1319.8,747.1 L1321.4,744.0 L1323.0,740.8 L1324.6,737.6 L1326.2,734.4 L1327.8,731.2 L1329.4,727.9 L1331.0,724.6 L1332.6,721.2 L1334.3,717.9 L1335.9,714.5 L1337.5,711.1 L1339.2,707.6 L1340.8,704.1 L1342.5,700.6 L1344.2,697.0 L1345.9,693.4 L1347.6,689.7 L1349.3,686.1 L1351.0,682.3 L1352.7,678.6 L1354.4,674.7 L1356.2,670.9 L1357.9,667.0 L1359.7,663.0 L1361.5,659.0 L1363.3,655.0 L1365.1,650.9 L1366.9,646.7 L1368.8,642.5 L1370.6,638.3 L1372.5,634.0 L1374.4,629.6 L1376.3,625.2 L1378.2,620.7 L1380.1,616.2 L1382.1,611.6 L1384.1,606.9 L1386.1,602.2 L1388.1,597.4 L1390.1,592.5 L1392.2,587.6 L1394.3,582.6 L1396.3,577.6 L1398.5,572.5 L1400.6,567.3 L1402.8,562.0 L1404.9,556.7 L1407.2,551.3 L1409.4,545.8 L1411.6,540.2 L1413.9,534.6 L1416.2,528.9 L1418.5,523.1 L1420.9,517.2 L1423.3,511.3 L1425.7,505.3 L1428.1,499.2 L1430.6,493.0 L1433.1,486.7 L1435.6,480.4 L1438.1,474.1 L1440.7,467.6 L1443.2,461.2 L1445.8,454.6 L1448.5,448.1 L1451.1,441.4 L1453.8,434.8 L1456.5,428.1 L1459.2,421.4 L1461.9,414.6 L1464.6,407.8 L1467.4,401.0 L1470.2,394.2 L1473.0,387.4 L1475.8,380.6 L1478.7,373.7 L1481.5,366.9 L1484.4,360.0 L1487.3,353.2 L1490.2,346.3 L1493.1,339.5 L1496.0,332.7 L1499.0,325.9 L1501.9,319.1 L1504.9,312.4 L1507.9,305.7 L1510.9,299.0 L1513.9,292.4 L1516.9,285.8 L1520.0,279.2 L1523.0,272.7 L1526.1,266.2 L1529.1,259.8 L1532.2,253.5 L1535.3,247.2 L1538.4,241.0 L1541.5,234.8 L1544.6,228.7 L1547.7,222.7 L1550.8,216.8 L1553.9,211.0 L1557.1,205.2 L1560.2,199.5 L1563.4,194.0 L1566.5,188.5 L1569.7,183.1 L1572.8,177.9 L1576.0,172.7 L1579.1,167.7 L1582.3,162.7 L1585.5,157.9 L1588.6,153.2 L1591.8,148.7 L1595.0,144.2 L1598.1,139.9 L1601.3,135.8 L1604.5,131.8 L1607.6,127.9 L1610.8,124.1 L1613.9,120.4 L1617.1,116.9 L1620.2,113.5 L1623.4,110.2 L1626.5,107.0 L1629.6,103.9 L1632.7,101.0 L1635.8,98.1 L1638.9,95.4 L1642.0,92.8 L1645.1,90.2 L1648.1,87.8 L1651.2,85.5 L1654.2,83.2 L1657.2,81.1 L1660.2,79.1 L1663.2,77.1 L1666.1,75.2 L1669.0,73.4 L1671.9,71.7 L1674.8,70.1 L1677.7,68.6 L1680.5,67.1 L1683.3,65.7 L1686.1,64.4 L1688.9,63.1 L1691.6,62.0 L1694.3,60.8 L1697.0,59.8 L1699.7,58.8 L1702.3,57.9 L1704.9,57.0 L1707.4,56.2 L1709.9,55.4 L1712.4,54.7 L1714.9,54.0 L1717.3,53.4 L1719.7,52.8 L1722.0,52.3 L1724.3,51.8 L1726.6,51.3 L1728.8,50.9 L1731.0,50.5 L1733.1,50.2 L1735.2,49.8 L1737.3,49.5 L1739.3,49.3 L1741.2,49.0 L1743.2,48.8 L1745.0,48.6 L1746.8,48.4 L1748.6,48.2 L1750.3,48.0 L1752.0,47.8 L1753.6,47.7 L1755.2,47.5 L1756.7,47.4 L1758.1,47.2 L1759.6,47.1 L1760.9,47.0 L1762.2,46.8 L1763.5,46.7 L1764.7,46.6 L1765.9,46.5 L1767.0,46.4 L1768.1,46.3 L1769.1,46.2 L1770.1,46.1 L1771.1,46.0 L1772.0,45.9 L1772.9,45.8 L1773.7,45.7 L1774.5,45.7 L1775.3,45.6 L1776.0,45.5 L1776.7,45.5 L1777.3,45.4 L1777.9,45.3 L1778.5,45.3 L1779.1,45.2 L1779.6,45.2 L1780.1,45.1 L1780.6,45.1 L1781.0,45.0 L1781.4,45.0 L1781.8,45.0 L1782.2,44.9 L1782.5,44.9 L1782.8,44.9 L1783.1,44.8 L1783.4,44.8 L1783.6,44.8 L1783.8,44.8 L1784.0,44.7 L1784.2,44.7 L1784.4,44.7 L1784.5,44.7 L1784.7,44.7 L1784.8,44.7 L1784.9,44.7 L1785.0,44.7 L1785.1,44.6 L1785.1,44.6 L1785.2,44.6 L1785.3,44.6 L1785.3,44.6 L1785.3,44.6 L1785.3,44.6 L1785.4,44.6 L1785.4,44.6 L1785.4,44.6 L1785.4,44.6 L1785.4,44.6 L1785.4,44.6 L1785.4,44.6" fill="none" stroke="#000000" stroke-width="2.4" stroke-linejoin="round"/>
<circle cx="267.0" cy="1382.7" r="15.1" fill="#fff" stroke="#000" stroke-width="2.6"/>
<circle cx="456.8" cy="1373.4" r="15.1" fill="#fff" stroke="#000" stroke-width="2.6"/>
<circle cx="646.6" cy="1333.9" r="15.1" fill="#fff" stroke="#000" stroke-width="2.6"/>
<circle cx="836.4" cy="1292.5" r="15.1" fill="#fff" stroke="#000" stroke-width="2.6"/>
<circle cx="1216.0" cy="927.7" r="15.1" fill="#fff" stroke="#000" stroke-width="2.6"/>
<circle cx="1310.9" cy="773.7" r="15.1" fill="#fff" stroke="#000" stroke-width="2.6"/>
<circle cx="1405.8" cy="564.0" r="15.1" fill="#fff" stroke="#000" stroke-width="2.6"/>
<circle cx="1595.6" cy="62.9" r="15.1" fill="#fff" stroke="#000" stroke-width="2.6"/>
<circle cx="1785.4" cy="44.6" r="15.1" fill="#fff" stroke="#000" stroke-width="2.6"/>
<path d="M267.0,1389.2 L267.0,1389.2 L267.0,1389.2 L267.0,1389.2 L267.0,1389.2 L267.0,1389.2 L267.0,1389.2 L267.1,1389.2 L267.1,1389.2 L267.1,1389.2 L267.2,1389.2 L267.3,1389.2 L267.3,1389.2 L267.4,1389.2 L267.5,1389.2 L267.7,1389.2 L267.8,1389.2 L268.0,1389.2 L268.1,1389.2 L268.3,1389.2 L268.6,1389.1 L268.8,1389.1 L269.1,1389.1 L269.4,1389.1 L269.7,1389.1 L270.1,1389.1 L270.4,1389.0 L270.9,1389.0 L271.3,1389.0 L271.8,1389.0 L272.3,1389.0 L272.8,1388.9 L273.4,1388.9 L274.0,1388.9 L274.7,1388.8 L275.4,1388.8 L276.1,1388.8 L276.9,1388.7 L277.7,1388.7 L278.6,1388.6 L279.5,1388.6 L280.5,1388.5 L281.5,1388.5 L282.6,1388.4 L283.7,1388.4 L284.9,1388.3 L286.1,1388.3 L287.3,1388.2 L288.7,1388.1 L290.0,1388.1 L291.5,1388.0 L293.0,1387.9 L294.5,1387.8 L296.2,1387.8 L297.8,1387.7 L299.6,1387.6 L301.4,1387.5 L303.3,1387.4 L305.2,1387.3 L307.2,1387.2 L309.2,1387.1 L311.4,1387.0 L313.5,1386.9 L315.7,1386.8 L318.0,1386.6 L320.3,1386.5 L322.7,1386.4 L325.1,1386.3 L327.6,1386.1 L330.2,1386.0 L332.7,1385.8 L335.3,1385.7 L338.0,1385.5 L340.7,1385.4 L343.5,1385.2 L346.2,1385.1 L349.1,1384.9 L351.9,1384.7 L354.9,1384.5 L357.8,1384.4 L360.8,1384.2 L363.8,1384.0 L366.8,1383.8 L369.9,1383.6 L373.0,1383.4 L376.1,1383.2 L379.3,1382.9 L382.5,1382.7 L385.7,1382.5 L389.0,1382.2 L392.2,1382.0 L395.5,1381.8 L398.8,1381.5 L402.1,1381.3 L405.5,1381.0 L408.8,1380.7 L412.2,1380.5 L415.6,1380.2 L419.0,1379.9 L422.5,1379.6 L425.9,1379.3 L429.3,1379.0 L432.8,1378.7 L436.2,1378.4 L439.7,1378.1 L443.2,1377.7 L446.7,1377.4 L450.1,1377.1 L453.6,1376.7 L457.1,1376.4 L460.6,1376.0 L464.1,1375.7 L467.6,1375.3 L471.1,1374.9 L474.5,1374.5 L478.0,1374.1 L481.5,1373.7 L485.0,1373.3 L488.5,1372.9 L492.0,1372.5 L495.5,1372.1 L498.9,1371.7 L502.4,1371.3 L505.9,1370.9 L509.4,1370.4 L512.9,1370.0 L516.4,1369.6 L519.9,1369.1 L523.3,1368.7 L526.8,1368.3 L530.3,1367.8 L533.8,1367.4 L537.3,1366.9 L540.8,1366.5 L544.3,1366.1 L547.7,1365.6 L551.2,1365.2 L554.7,1364.7 L558.2,1364.3 L561.7,1363.8 L565.2,1363.4 L568.7,1362.9 L572.1,1362.5 L575.6,1362.0 L579.1,1361.6 L582.6,1361.2 L586.1,1360.7 L589.6,1360.3 L593.1,1359.9 L596.5,1359.4 L600.0,1359.0 L603.5,1358.6 L607.0,1358.2 L610.5,1357.7 L614.0,1357.3 L617.4,1356.9 L620.9,1356.5 L624.4,1356.1 L627.9,1355.7 L631.4,1355.3 L634.9,1354.9 L638.4,1354.6 L641.8,1354.2 L645.3,1353.8 L648.8,1353.5 L652.3,1353.1 L655.8,1352.8 L659.3,1352.4 L662.8,1352.1 L666.2,1351.7 L669.7,1351.4 L673.2,1351.1 L676.7,1350.8 L680.2,1350.4 L683.7,1350.1 L687.2,1349.8 L690.6,1349.5 L694.1,1349.2 L697.6,1348.9 L701.1,1348.6 L704.6,1348.3 L708.1,1348.0 L711.6,1347.7 L715.0,1347.4 L718.5,1347.0 L722.0,1346.7 L725.5,1346.4 L729.0,1346.1 L732.5,1345.8 L736.0,1345.5 L739.4,1345.2 L742.9,1344.8 L746.4,1344.5 L749.9,1344.2 L753.4,1343.8 L756.9,1343.5 L760.4,1343.2 L763.8,1342.8 L767.3,1342.4 L770.8,1342.1 L774.3,1341.7 L777.8,1341.3 L781.3,1340.9 L784.8,1340.6 L788.2,1340.2 L791.7,1339.7 L795.2,1339.3 L798.7,1338.9 L802.2,1338.5 L805.7,1338.0 L809.1,1337.6 L812.6,1337.1 L816.1,1336.6 L819.6,1336.1 L823.1,1335.6 L826.6,1335.1 L830.1,1334.6 L833.5,1334.0 L837.0,1333.5 L840.5,1332.9 L844.0,1332.3 L847.5,1331.8 L851.0,1331.1 L854.5,1330.5 L857.9,1329.9 L861.4,1329.2 L864.9,1328.6 L868.4,1327.9 L871.9,1327.2 L875.4,1326.4 L878.9,1325.7 L882.3,1324.9 L885.8,1324.2 L889.3,1323.4 L892.8,1322.5 L896.3,1321.7 L899.8,1320.8 L903.3,1320.0 L906.7,1319.1 L910.2,1318.1 L913.7,1317.2 L917.2,1316.2 L920.7,1315.2 L924.2,1314.2 L927.7,1313.2 L931.1,1312.1 L934.6,1311.0 L938.1,1309.9 L941.6,1308.8 L945.1,1307.6 L948.6,1306.4 L952.1,1305.2 L955.5,1304.0 L959.0,1302.7 L962.5,1301.4 L966.0,1300.1 L969.5,1298.7 L973.0,1297.3 L976.5,1295.9 L979.9,1294.5 L983.4,1293.0 L986.9,1291.5 L990.4,1289.9 L993.9,1288.4 L997.4,1286.8 L1000.9,1285.1 L1004.3,1283.5 L1007.8,1281.8 L1011.3,1280.0 L1014.8,1278.3 L1018.3,1276.4 L1021.8,1274.6 L1025.2,1272.7 L1028.7,1270.8 L1032.2,1268.9 L1035.7,1266.9 L1039.2,1264.9 L1042.7,1262.8 L1046.2,1260.7 L1049.6,1258.6 L1053.1,1256.5 L1056.6,1254.3 L1060.1,1252.0 L1063.6,1249.8 L1067.1,1247.5 L1070.6,1245.1 L1074.0,1242.8 L1077.5,1240.4 L1081.0,1237.9 L1084.5,1235.5 L1088.0,1233.0 L1091.5,1230.4 L1095.0,1227.8 L1098.4,1225.2 L1101.9,1222.6 L1105.4,1219.9 L1108.9,1217.2 L1112.4,1214.5 L1115.9,1211.7 L1119.4,1208.9 L1122.8,1206.1 L1126.3,1203.2 L1129.8,1200.3 L1133.3,1197.3 L1136.8,1194.4 L1140.3,1191.4 L1143.8,1188.3 L1147.2,1185.3 L1150.7,1182.2 L1154.2,1179.0 L1157.7,1175.9 L1161.2,1172.7 L1164.7,1169.5 L1168.2,1166.2 L1171.6,1162.9 L1175.1,1159.6 L1178.6,1156.2 L1182.1,1152.9 L1185.6,1149.4 L1189.1,1146.0 L1192.6,1142.5 L1196.0,1139.0 L1199.5,1135.5 L1203.0,1131.9 L1206.5,1128.3 L1210.0,1124.7 L1213.5,1121.0 L1217.0,1117.3 L1220.4,1113.6 L1223.9,1109.9 L1227.4,1106.1 L1230.9,1102.3 L1234.4,1098.4 L1237.9,1094.6 L1241.3,1090.6 L1244.8,1086.7 L1248.3,1082.7 L1251.8,1078.7 L1255.3,1074.6 L1258.8,1070.5 L1262.3,1066.4 L1265.7,1062.2 L1269.2,1058.0 L1272.7,1053.7 L1276.2,1049.4 L1279.7,1045.0 L1283.2,1040.6 L1286.7,1036.2 L1290.1,1031.7 L1293.6,1027.2 L1297.1,1022.6 L1300.6,1018.0 L1304.1,1013.3 L1307.6,1008.5 L1311.1,1003.7 L1314.5,998.9 L1318.0,994.0 L1321.5,989.1 L1325.0,984.1 L1328.5,979.0 L1332.0,973.9 L1335.5,968.7 L1338.9,963.5 L1342.4,958.2 L1345.9,952.9 L1349.4,947.5 L1352.9,942.0 L1356.4,936.5 L1359.9,930.9 L1363.3,925.2 L1366.8,919.5 L1370.3,913.7 L1373.8,907.9 L1377.3,901.9 L1380.8,896.0 L1384.3,889.9 L1387.7,883.8 L1391.2,877.6 L1394.7,871.3 L1398.2,865.0 L1401.7,858.6 L1405.2,852.1 L1408.7,845.5 L1412.1,838.9 L1415.6,832.2 L1419.1,825.4 L1422.6,818.6 L1426.1,811.7 L1429.6,804.7 L1433.1,797.7 L1436.5,790.7 L1440.0,783.6 L1443.5,776.4 L1447.0,769.2 L1450.5,762.0 L1454.0,754.7 L1457.4,747.4 L1460.9,740.0 L1464.4,732.7 L1467.9,725.2 L1471.4,717.8 L1474.9,710.4 L1478.4,702.9 L1481.8,695.4 L1485.3,687.9 L1488.8,680.4 L1492.3,672.9 L1495.8,665.3 L1499.3,657.8 L1502.8,650.3 L1506.2,642.7 L1509.7,635.2 L1513.2,627.7 L1516.7,620.2 L1520.2,612.7 L1523.7,605.2 L1527.2,597.8 L1530.6,590.4 L1534.1,583.0 L1537.6,575.6 L1541.1,568.2 L1544.6,560.9 L1548.1,553.7 L1551.6,546.4 L1555.0,539.2 L1558.5,532.1 L1562.0,525.0 L1565.5,517.9 L1569.0,510.9 L1572.5,504.0 L1576.0,497.1 L1579.4,490.3 L1582.9,483.5 L1586.4,476.8 L1589.9,470.2 L1593.4,463.7 L1596.9,457.2 L1600.4,450.8 L1603.8,444.5 L1607.3,438.2 L1610.8,432.1 L1614.3,426.0 L1617.8,419.9 L1621.3,414.0 L1624.8,408.1 L1628.2,402.3 L1631.7,396.5 L1635.2,390.9 L1638.7,385.3 L1642.2,379.7 L1645.7,374.2 L1649.1,368.8 L1652.6,363.5 L1656.1,358.2 L1659.6,353.0 L1663.1,347.8 L1666.6,342.7 L1670.1,337.6 L1673.5,332.6 L1677.0,327.7 L1680.5,322.8 L1684.0,318.0 L1687.5,313.2 L1691.0,308.5 L1694.5,303.9 L1697.9,299.2 L1701.4,294.7 L1704.9,290.2 L1708.4,285.7 L1711.9,281.3 L1715.4,276.9 L1718.9,272.6 L1722.3,268.3 L1725.8,264.1 L1729.3,259.9 L1732.8,255.8 L1736.3,251.7 L1739.8,247.6 L1743.3,243.6 L1746.7,239.6 L1750.2,235.7 L1753.7,231.7 L1757.2,227.9 L1760.7,224.0 L1764.2,220.2 L1767.7,216.5 L1771.1,212.7 L1774.6,209.0 L1778.1,205.3 L1781.6,201.7 L1785.1,198.1 L1788.6,194.5 L1792.1,190.9 L1795.5,187.4 L1799.0,183.9 L1802.5,180.4 L1806.0,177.0 L1809.4,173.6 L1812.9,170.2 L1816.3,166.8 L1819.7,163.5 L1823.2,160.2 L1826.6,157.0 L1830.0,153.8 L1833.4,150.6 L1836.7,147.4 L1840.1,144.3 L1843.4,141.2 L1846.7,138.2 L1850.0,135.2 L1853.2,132.2 L1856.5,129.3 L1859.7,126.4 L1862.9,123.5 L1866.1,120.7 L1869.2,117.9 L1872.3,115.2 L1875.4,112.4 L1878.4,109.8 L1881.4,107.2 L1884.4,104.6 L1887.3,102.0 L1890.3,99.5 L1893.1,97.1 L1896.0,94.6 L1898.7,92.3 L1901.5,89.9 L1904.2,87.6 L1906.9,85.4 L1909.5,83.2 L1912.0,81.1 L1914.6,78.9 L1917.1,76.9 L1919.5,74.9 L1921.9,72.9 L1924.2,71.0 L1926.5,69.1 L1928.7,67.3 L1930.8,65.5 L1933.0,63.8 L1935.0,62.1 L1937.0,60.5 L1938.9,58.9 L1940.8,57.4 L1942.6,55.9 L1944.4,54.5 L1946.0,53.1 L1947.7,51.8 L1949.2,50.5 L1950.7,49.3 L1952.2,48.1 L1953.5,47.0 L1954.9,45.9 L1956.1,44.9 L1957.3,43.9 L1958.5,42.9 L1959.6,42.0 L1960.7,41.2 L1961.7,40.3 L1962.7,39.6 L1963.6,38.8 L1964.5,38.1 L1965.3,37.4 L1966.1,36.8 L1966.8,36.2 L1967.5,35.6 L1968.2,35.1 L1968.8,34.6 L1969.4,34.1 L1969.9,33.7 L1970.4,33.2 L1970.9,32.9 L1971.3,32.5 L1971.8,32.2 L1972.1,31.8 L1972.5,31.6 L1972.8,31.3 L1973.1,31.1 L1973.4,30.8 L1973.6,30.6 L1973.9,30.4 L1974.1,30.3 L1974.2,30.1 L1974.4,30.0 L1974.5,29.9 L1974.7,29.8 L1974.8,29.7 L1974.9,29.6 L1974.9,29.6 L1975.0,29.5 L1975.1,29.5 L1975.1,29.4 L1975.1,29.4 L1975.2,29.4 L1975.2,29.4 L1975.2,29.4 L1975.2,29.4 L1975.2,29.4 L1975.2,29.4 L1975.2,29.4" fill="none" stroke="#008000" stroke-width="2.4" stroke-linejoin="round"/>
<polygon points="267.0,1370.5 262.8,1383.4 249.2,1383.4 260.2,1391.4 256.0,1404.3 267.0,1396.4 278.0,1404.3 273.8,1391.4 284.8,1383.4 271.2,1383.4" fill="#008000"/>
<polygon points="456.8,1361.0 452.6,1373.9 439.0,1373.9 450.0,1381.9 445.8,1394.8 456.8,1386.8 467.8,1394.8 463.6,1381.9 474.6,1373.9 461.0,1373.9" fill="#008000"/>
<polygon points="646.6,1331.9 642.4,1344.8 628.8,1344.8 639.8,1352.8 635.6,1365.7 646.6,1357.7 657.6,1365.7 653.4,1352.8 664.4,1344.8 650.8,1344.8" fill="#008000"/>
<polygon points="836.4,1321.6 832.2,1334.5 818.6,1334.5 829.6,1342.5 825.4,1355.4 836.4,1347.4 847.4,1355.4 843.2,1342.5 854.2,1334.5 840.6,1334.5" fill="#008000"/>
<polygon points="1026.2,1271.3 1022.0,1284.2 1008.4,1284.2 1019.4,1292.2 1015.2,1305.1 1026.2,1297.1 1037.2,1305.1 1033.0,1292.2 1044.0,1284.2 1030.4,1284.2" fill="#008000"/>
<polygon points="1216.0,1114.4 1211.8,1127.3 1198.2,1127.3 1209.2,1135.3 1205.0,1148.2 1216.0,1140.3 1227.0,1148.2 1222.8,1135.3 1233.8,1127.3 1220.2,1127.3" fill="#008000"/>
<polygon points="1405.8,869.0 1401.6,881.9 1388.0,881.9 1399.0,889.9 1394.8,902.8 1405.8,894.9 1416.8,902.8 1412.6,889.9 1423.6,881.9 1410.0,881.9" fill="#008000"/>
<polygon points="1595.6,402.7 1591.4,415.6 1577.8,415.6 1588.8,423.6 1584.6,436.5 1595.6,428.5 1606.6,436.5 1602.4,423.6 1613.4,415.6 1599.8,415.6" fill="#008000"/>
<polygon points="1785.4,165.2 1781.2,178.2 1767.6,178.2 1778.6,186.2 1774.4,199.1 1785.4,191.1 1796.4,199.1 1792.2,186.2 1803.2,178.2 1789.6,178.2" fill="#008000"/>
<polygon points="1975.2,10.7 1971.0,23.6 1957.4,23.6 1968.4,31.6 1964.2,44.5 1975.2,36.5 1986.2,44.5 1982.0,31.6 1993.0,23.6 1979.4,23.6" fill="#008000"/>
<path d="M646.6,1387.9 L646.6,1387.9 L646.6,1387.9 L646.6,1387.9 L646.6,1387.9 L646.6,1387.9 L646.6,1387.9 L646.7,1387.9 L646.7,1387.9 L646.8,1387.9 L646.8,1387.9 L646.9,1387.9 L647.0,1387.9 L647.1,1387.9 L647.2,1387.8 L647.3,1387.8 L647.5,1387.8 L647.7,1387.8 L647.9,1387.8 L648.1,1387.7 L648.3,1387.7 L648.6,1387.7 L648.9,1387.7 L649.2,1387.6 L649.6,1387.6 L650.0,1387.5 L650.4,1387.5 L650.8,1387.4 L651.3,1387.4 L651.8,1387.3 L652.4,1387.3 L653.0,1387.2 L653.6,1387.1 L654.3,1387.1 L655.0,1387.0 L655.8,1386.9 L656.6,1386.8 L657.5,1386.7 L658.4,1386.6 L659.3,1386.5 L660.3,1386.4 L661.4,1386.3 L662.5,1386.2 L663.7,1386.1 L664.9,1385.9 L666.2,1385.8 L667.5,1385.6 L668.9,1385.5 L670.3,1385.3 L671.8,1385.2 L673.4,1385.0 L675.1,1384.8 L676.8,1384.6 L678.5,1384.5 L680.4,1384.3 L682.3,1384.0 L684.3,1383.8 L686.3,1383.6 L688.5,1383.4 L690.7,1383.1 L693.0,1382.9 L695.3,1382.6 L697.7,1382.4 L700.3,1382.1 L702.9,1381.8 L705.5,1381.5 L708.3,1381.2 L711.1,1380.9 L714.1,1380.6 L717.1,1380.3 L720.2,1380.0 L723.4,1379.6 L726.6,1379.3 L729.9,1378.9 L733.3,1378.5 L736.8,1378.1 L740.4,1377.8 L744.0,1377.4 L747.6,1377.0 L751.4,1376.5 L755.2,1376.1 L759.0,1375.7 L762.9,1375.2 L766.9,1374.8 L770.9,1374.3 L775.0,1373.9 L779.2,1373.4 L783.3,1372.9 L787.6,1372.4 L791.8,1371.9 L796.1,1371.4 L800.5,1370.9 L804.9,1370.4 L809.3,1369.9 L813.8,1369.4 L818.2,1368.8 L822.8,1368.3 L827.3,1367.7 L831.9,1367.1 L836.5,1366.6 L841.1,1366.0 L845.8,1365.4 L850.4,1364.8 L855.1,1364.2 L859.8,1363.6 L864.5,1363.0 L869.3,1362.4 L874.0,1361.8 L878.7,1361.1 L883.5,1360.5 L888.2,1359.9 L893.0,1359.2 L897.7,1358.5 L902.5,1357.9 L907.2,1357.2 L912.0,1356.5 L916.7,1355.9 L921.4,1355.2 L926.1,1354.5 L930.8,1353.8 L935.5,1353.1 L940.2,1352.4 L944.8,1351.6 L949.5,1350.9 L954.1,1350.2 L958.6,1349.5 L963.2,1348.7 L967.7,1348.0 L972.2,1347.2 L976.6,1346.5 L981.1,1345.7 L985.4,1344.9 L989.8,1344.2 L994.1,1343.4 L998.4,1342.6 L1002.6,1341.8 L1006.7,1341.0 L1010.9,1340.2 L1015.0,1339.4 L1019.0,1338.6 L1023.0,1337.8 L1027.0,1337.0 L1030.9,1336.2 L1034.8,1335.4 L1038.7,1334.5 L1042.5,1333.7 L1046.3,1332.8 L1050.0,1332.0 L1053.7,1331.1 L1057.3,1330.3 L1061.0,1329.4 L1064.5,1328.5 L1068.1,1327.6 L1071.6,1326.8 L1075.1,1325.9 L1078.5,1324.9 L1081.9,1324.0 L1085.3,1323.1 L1088.6,1322.2 L1091.9,1321.3 L1095.1,1320.3 L1098.4,1319.4 L1101.6,1318.4 L1104.7,1317.5 L1107.8,1316.5 L1110.9,1315.5 L1114.0,1314.5 L1117.0,1313.5 L1120.0,1312.5 L1123.0,1311.5 L1125.9,1310.5 L1128.8,1309.5 L1131.7,1308.4 L1134.5,1307.4 L1137.3,1306.3 L1140.1,1305.3 L1142.9,1304.2 L1145.6,1303.1 L1148.3,1302.0 L1150.9,1300.9 L1153.6,1299.8 L1156.2,1298.7 L1158.8,1297.6 L1161.3,1296.4 L1163.8,1295.3 L1166.3,1294.1 L1168.8,1293.0 L1171.3,1291.8 L1173.7,1290.6 L1176.1,1289.4 L1178.5,1288.2 L1180.8,1287.0 L1183.1,1285.8 L1185.4,1284.5 L1187.7,1283.3 L1190.0,1282.0 L1192.2,1280.7 L1194.4,1279.5 L1196.6,1278.2 L1198.8,1276.9 L1200.9,1275.5 L1203.0,1274.2 L1205.1,1272.9 L1207.2,1271.5 L1209.3,1270.2 L1211.3,1268.8 L1213.3,1267.4 L1215.3,1266.0 L1217.3,1264.6 L1219.3,1263.2 L1221.2,1261.8 L1223.1,1260.4 L1225.0,1258.9 L1226.9,1257.5 L1228.8,1256.0 L1230.7,1254.6 L1232.5,1253.1 L1234.3,1251.6 L1236.1,1250.2 L1237.9,1248.7 L1239.7,1247.2 L1241.5,1245.7 L1243.2,1244.1 L1244.9,1242.6 L1246.7,1241.1 L1248.4,1239.6 L1250.1,1238.0 L1251.7,1236.5 L1253.4,1235.0 L1255.1,1233.4 L1256.7,1231.9 L1258.3,1230.3 L1260.0,1228.7 L1261.6,1227.2 L1263.2,1225.6 L1264.7,1224.0 L1266.3,1222.4 L1267.9,1220.9 L1269.5,1219.3 L1271.0,1217.7 L1272.5,1216.1 L1274.1,1214.5 L1275.6,1212.9 L1277.1,1211.3 L1278.6,1209.7 L1280.1,1208.1 L1281.6,1206.5 L1283.1,1204.9 L1284.6,1203.3 L1286.1,1201.7 L1287.5,1200.1 L1289.0,1198.5 L1290.5,1196.9 L1291.9,1195.3 L1293.4,1193.7 L1294.8,1192.1 L1296.3,1190.5 L1297.7,1188.9 L1299.1,1187.3 L1300.6,1185.8 L1302.0,1184.2 L1303.4,1182.6 L1304.9,1181.0 L1306.3,1179.4 L1307.7,1177.8 L1309.2,1176.3 L1310.6,1174.7 L1312.0,1173.1 L1313.4,1171.6 L1314.9,1170.0 L1316.3,1168.4 L1317.7,1166.9 L1319.1,1165.3 L1320.6,1163.7 L1322.0,1162.2 L1323.5,1160.6 L1324.9,1159.0 L1326.3,1157.5 L1327.8,1155.9 L1329.2,1154.3 L1330.7,1152.7 L1332.1,1151.1 L1333.6,1149.4 L1335.1,1147.8 L1336.6,1146.2 L1338.0,1144.5 L1339.5,1142.8 L1341.0,1141.2 L1342.5,1139.5 L1344.0,1137.7 L1345.5,1136.0 L1347.0,1134.2 L1348.6,1132.5 L1350.1,1130.7 L1351.7,1128.9 L1353.2,1127.0 L1354.8,1125.2 L1356.3,1123.3 L1357.9,1121.4 L1359.5,1119.4 L1361.1,1117.5 L1362.7,1115.5 L1364.4,1113.4 L1366.0,1111.4 L1367.7,1109.3 L1369.3,1107.2 L1371.0,1105.0 L1372.7,1102.9 L1374.4,1100.7 L1376.1,1098.4 L1377.8,1096.1 L1379.6,1093.8 L1381.3,1091.4 L1383.1,1089.0 L1384.9,1086.6 L1386.7,1084.1 L1388.5,1081.6 L1390.3,1079.0 L1392.2,1076.4 L1394.0,1073.7 L1395.9,1071.0 L1397.8,1068.3 L1399.7,1065.5 L1401.7,1062.6 L1403.6,1059.7 L1405.6,1056.8 L1407.6,1053.8 L1409.6,1050.7 L1411.6,1047.6 L1413.7,1044.4 L1415.8,1041.2 L1417.8,1038.0 L1420.0,1034.6 L1422.1,1031.2 L1424.2,1027.8 L1426.4,1024.3 L1428.6,1020.7 L1430.8,1017.1 L1433.1,1013.4 L1435.3,1009.7 L1437.6,1005.9 L1439.9,1002.0 L1442.2,998.1 L1444.5,994.2 L1446.9,990.1 L1449.3,986.0 L1451.6,981.9 L1454.0,977.7 L1456.5,973.5 L1458.9,969.2 L1461.4,964.8 L1463.8,960.4 L1466.3,955.9 L1468.8,951.4 L1471.3,946.8 L1473.8,942.2 L1476.4,937.5 L1478.9,932.8 L1481.5,928.0 L1484.1,923.1 L1486.7,918.2 L1489.3,913.3 L1491.9,908.3 L1494.6,903.2 L1497.2,898.1 L1499.9,892.9 L1502.5,887.7 L1505.2,882.5 L1507.9,877.2 L1510.6,871.8 L1513.3,866.4 L1516.0,860.9 L1518.7,855.4 L1521.5,849.8 L1524.2,844.2 L1527.0,838.5 L1529.7,832.8 L1532.5,827.1 L1535.3,821.2 L1538.1,815.4 L1540.9,809.5 L1543.6,803.5 L1546.4,797.5 L1549.3,791.4 L1552.1,785.3 L1554.9,779.2 L1557.7,773.0 L1560.5,766.8 L1563.4,760.5 L1566.2,754.1 L1569.0,747.7 L1571.9,741.3 L1574.7,734.8 L1577.6,728.3 L1580.4,721.8 L1583.2,715.1 L1586.1,708.5 L1588.9,701.8 L1591.8,695.0 L1594.6,688.3 L1597.5,681.4 L1600.4,674.5 L1603.2,667.6 L1606.1,660.7 L1608.9,653.7 L1611.8,646.7 L1614.6,639.6 L1617.5,632.5 L1620.3,625.4 L1623.2,618.3 L1626.0,611.1 L1628.9,603.9 L1631.7,596.7 L1634.6,589.5 L1637.4,582.3 L1640.3,575.0 L1643.1,567.7 L1646.0,560.5 L1648.8,553.2 L1651.7,545.9 L1654.5,538.6 L1657.4,531.3 L1660.2,524.1 L1663.1,516.8 L1665.9,509.5 L1668.8,502.2 L1671.6,495.0 L1674.5,487.7 L1677.4,480.5 L1680.2,473.3 L1683.1,466.1 L1685.9,458.9 L1688.8,451.7 L1691.6,444.6 L1694.5,437.5 L1697.3,430.4 L1700.2,423.3 L1703.0,416.3 L1705.9,409.3 L1708.7,402.4 L1711.6,395.4 L1714.4,388.6 L1717.3,381.7 L1720.1,375.0 L1723.0,368.2 L1725.8,361.5 L1728.7,354.9 L1731.5,348.3 L1734.4,341.8 L1737.2,335.3 L1740.1,328.9 L1742.9,322.5 L1745.8,316.3 L1748.6,310.0 L1751.5,303.9 L1754.3,297.8 L1757.2,291.8 L1760.1,285.8 L1762.9,280.0 L1765.8,274.2 L1768.6,268.5 L1771.5,262.8 L1774.3,257.3 L1777.2,251.8 L1780.0,246.5 L1782.9,241.2 L1785.7,236.0 L1788.6,230.9 L1791.4,225.9 L1794.3,221.0 L1797.1,216.2 L1800.0,211.5 L1802.8,206.8 L1805.6,202.3 L1808.5,197.8 L1811.3,193.5 L1814.1,189.2 L1816.9,185.0 L1819.7,180.8 L1822.5,176.8 L1825.3,172.8 L1828.1,169.0 L1830.9,165.2 L1833.7,161.5 L1836.4,157.8 L1839.2,154.3 L1841.9,150.8 L1844.6,147.4 L1847.3,144.0 L1850.0,140.7 L1852.7,137.6 L1855.3,134.4 L1858.0,131.4 L1860.6,128.4 L1863.2,125.5 L1865.8,122.6 L1868.3,119.9 L1870.9,117.1 L1873.4,114.5 L1875.9,111.9 L1878.4,109.4 L1880.9,106.9 L1883.3,104.5 L1885.7,102.2 L1888.1,99.9 L1890.5,97.6 L1892.9,95.5 L1895.2,93.3 L1897.5,91.3 L1899.7,89.3 L1902.0,87.3 L1904.2,85.4 L1906.4,83.6 L1908.5,81.8 L1910.7,80.0 L1912.7,78.3 L1914.8,76.6 L1916.8,75.0 L1918.8,73.5 L1920.8,71.9 L1922.7,70.5 L1924.6,69.0 L1926.5,67.6 L1928.3,66.3 L1930.1,64.9 L1931.8,63.7 L1933.5,62.4 L1935.2,61.2 L1936.8,60.1 L1938.4,58.9 L1940.0,57.8 L1941.5,56.7 L1942.9,55.7 L1944.4,54.7 L1945.7,53.7 L1947.1,52.8 L1948.4,51.9 L1949.6,51.0 L1950.8,50.1 L1952.0,49.3 L1953.2,48.5 L1954.3,47.7 L1955.3,46.9 L1956.4,46.2 L1957.3,45.5 L1958.3,44.8 L1959.2,44.2 L1960.1,43.6 L1961.0,43.0 L1961.8,42.4 L1962.6,41.8 L1963.3,41.3 L1964.1,40.8 L1964.8,40.3 L1965.4,39.8 L1966.1,39.4 L1966.7,38.9 L1967.3,38.5 L1967.8,38.1 L1968.3,37.8 L1968.8,37.4 L1969.3,37.1 L1969.8,36.7 L1970.2,36.4 L1970.6,36.2 L1971.0,35.9 L1971.3,35.6 L1971.7,35.4 L1972.0,35.2 L1972.3,34.9 L1972.6,34.7 L1972.8,34.6 L1973.1,34.4 L1973.3,34.2 L1973.5,34.1 L1973.7,33.9 L1973.9,33.8 L1974.1,33.7 L1974.2,33.6 L1974.3,33.5 L1974.5,33.4 L1974.6,33.3 L1974.7,33.3 L1974.8,33.2 L1974.8,33.2 L1974.9,33.1 L1975.0,33.1 L1975.0,33.0 L1975.1,33.0 L1975.1,33.0 L1975.1,33.0 L1975.1,32.9 L1975.2,32.9 L1975.2,32.9 L1975.2,32.9 L1975.2,32.9 L1975.2,32.9 L1975.2,32.9 L1975.2,32.9 L1975.2,32.9" fill="none" stroke="#008000" stroke-width="2.4" stroke-linejoin="round"/>
<polygon points="646.6,1371.0 642.8,1382.7 630.5,1382.7 640.5,1389.9 636.7,1401.6 646.6,1394.4 656.5,1401.6 652.7,1389.9 662.7,1382.7 650.4,1382.7" fill="#fff" stroke="#008000" stroke-width="2.6" stroke-linejoin="round"/>
<polygon points="1026.2,1330.0 1022.4,1341.7 1010.1,1341.7 1020.1,1348.9 1016.3,1360.6 1026.2,1353.4 1036.1,1360.6 1032.3,1348.9 1042.3,1341.7 1030.0,1341.7" fill="#fff" stroke="#008000" stroke-width="2.6" stroke-linejoin="round"/>
<polygon points="1216.0,1267.5 1212.2,1279.1 1199.9,1279.1 1209.9,1286.4 1206.1,1298.0 1216.0,1290.8 1225.9,1298.0 1222.1,1286.4 1232.1,1279.1 1219.8,1279.1" fill="#fff" stroke="#008000" stroke-width="2.6" stroke-linejoin="round"/>
<polygon points="1310.9,1154.6 1307.1,1166.3 1294.8,1166.3 1304.8,1173.5 1301.0,1185.2 1310.9,1178.0 1320.8,1185.2 1317.0,1173.5 1327.0,1166.3 1314.7,1166.3" fill="#fff" stroke="#008000" stroke-width="2.6" stroke-linejoin="round"/>
<polygon points="1405.8,1058.6 1402.0,1070.3 1389.7,1070.3 1399.7,1077.5 1395.9,1089.2 1405.8,1082.0 1415.7,1089.2 1411.9,1077.5 1421.9,1070.3 1409.6,1070.3" fill="#fff" stroke="#008000" stroke-width="2.6" stroke-linejoin="round"/>
<polygon points="1595.6,701.4 1591.8,713.1 1579.5,713.1 1589.5,720.3 1585.7,732.0 1595.6,724.8 1605.5,732.0 1601.7,720.3 1611.7,713.1 1599.4,713.1" fill="#fff" stroke="#008000" stroke-width="2.6" stroke-linejoin="round"/>
<polygon points="1785.4,150.2 1781.6,161.8 1769.3,161.8 1779.3,169.1 1775.5,180.7 1785.4,173.5 1795.3,180.7 1791.5,169.1 1801.5,161.8 1789.2,161.8" fill="#fff" stroke="#008000" stroke-width="2.6" stroke-linejoin="round"/>
<polygon points="1975.2,16.0 1971.4,27.7 1959.1,27.7 1969.1,34.9 1965.3,46.6 1975.2,39.4 1985.1,46.6 1981.3,34.9 1991.3,27.7 1979.0,27.7" fill="#fff" stroke="#008000" stroke-width="2.6" stroke-linejoin="round"/>
<path d="M267.0,1389.6 L267.0,1389.6 L267.0,1389.6 L267.0,1389.6 L267.0,1389.6 L267.0,1389.6 L267.0,1389.6 L267.1,1389.6 L267.1,1389.5 L267.1,1389.5 L267.2,1389.5 L267.3,1389.5 L267.3,1389.5 L267.4,1389.5 L267.5,1389.5 L267.7,1389.5 L267.8,1389.5 L268.0,1389.5 L268.1,1389.5 L268.3,1389.5 L268.6,1389.4 L268.8,1389.4 L269.1,1389.4 L269.4,1389.4 L269.7,1389.4 L270.1,1389.3 L270.4,1389.3 L270.9,1389.3 L271.3,1389.2 L271.8,1389.2 L272.3,1389.2 L272.8,1389.1 L273.4,1389.1 L274.0,1389.0 L274.7,1389.0 L275.4,1388.9 L276.1,1388.9 L276.9,1388.8 L277.7,1388.7 L278.6,1388.7 L279.5,1388.6 L280.5,1388.5 L281.5,1388.5 L282.6,1388.4 L283.7,1388.3 L284.9,1388.2 L286.1,1388.1 L287.3,1388.0 L288.7,1387.9 L290.0,1387.8 L291.5,1387.7 L293.0,1387.6 L294.5,1387.5 L296.2,1387.4 L297.8,1387.2 L299.6,1387.1 L301.4,1387.0 L303.3,1386.8 L305.2,1386.7 L307.2,1386.5 L309.2,1386.4 L311.4,1386.2 L313.5,1386.1 L315.7,1385.9 L318.0,1385.7 L320.3,1385.6 L322.7,1385.4 L325.1,1385.2 L327.6,1385.0 L330.2,1384.8 L332.7,1384.6 L335.3,1384.4 L338.0,1384.2 L340.7,1384.0 L343.5,1383.8 L346.2,1383.6 L349.1,1383.4 L351.9,1383.1 L354.9,1382.9 L357.8,1382.7 L360.8,1382.5 L363.8,1382.2 L366.8,1382.0 L369.9,1381.7 L373.0,1381.5 L376.1,1381.2 L379.3,1381.0 L382.5,1380.7 L385.7,1380.5 L389.0,1380.2 L392.2,1380.0 L395.5,1379.7 L398.8,1379.4 L402.1,1379.2 L405.5,1378.9 L408.8,1378.6 L412.2,1378.4 L415.6,1378.1 L419.0,1377.8 L422.5,1377.5 L425.9,1377.2 L429.3,1376.9 L432.8,1376.7 L436.2,1376.4 L439.7,1376.1 L443.2,1375.8 L446.7,1375.5 L450.1,1375.2 L453.6,1374.9 L457.1,1374.6 L460.6,1374.3 L464.1,1374.0 L467.6,1373.7 L471.1,1373.4 L474.5,1373.1 L478.0,1372.8 L481.5,1372.5 L485.0,1372.1 L488.5,1371.8 L492.0,1371.5 L495.5,1371.2 L498.9,1370.9 L502.4,1370.6 L505.9,1370.2 L509.4,1369.9 L512.9,1369.6 L516.4,1369.2 L519.9,1368.9 L523.3,1368.6 L526.8,1368.2 L530.3,1367.9 L533.8,1367.5 L537.3,1367.2 L540.8,1366.8 L544.3,1366.5 L547.7,1366.1 L551.2,1365.7 L554.7,1365.4 L558.2,1365.0 L561.7,1364.6 L565.2,1364.2 L568.7,1363.8 L572.1,1363.5 L575.6,1363.1 L579.1,1362.7 L582.6,1362.3 L586.1,1361.9 L589.6,1361.4 L593.1,1361.0 L596.5,1360.6 L600.0,1360.2 L603.5,1359.8 L607.0,1359.3 L610.5,1358.9 L614.0,1358.5 L617.4,1358.0 L620.9,1357.6 L624.4,1357.1 L627.9,1356.6 L631.4,1356.2 L634.9,1355.7 L638.4,1355.2 L641.8,1354.7 L645.3,1354.2 L648.8,1353.7 L652.3,1353.2 L655.8,1352.7 L659.3,1352.2 L662.8,1351.7 L666.2,1351.2 L669.7,1350.6 L673.2,1350.1 L676.7,1349.6 L680.2,1349.0 L683.7,1348.5 L687.2,1347.9 L690.6,1347.3 L694.1,1346.8 L697.6,1346.2 L701.1,1345.6 L704.6,1345.0 L708.1,1344.4 L711.6,1343.8 L715.0,1343.2 L718.5,1342.6 L722.0,1342.0 L725.5,1341.3 L729.0,1340.7 L732.5,1340.1 L736.0,1339.4 L739.4,1338.8 L742.9,1338.1 L746.4,1337.4 L749.9,1336.8 L753.4,1336.1 L756.9,1335.4 L760.4,1334.7 L763.8,1334.0 L767.3,1333.3 L770.8,1332.6 L774.3,1331.9 L777.8,1331.2 L781.3,1330.4 L784.8,1329.7 L788.2,1328.9 L791.7,1328.2 L795.2,1327.4 L798.7,1326.7 L802.2,1325.9 L805.7,1325.1 L809.1,1324.3 L812.6,1323.6 L816.1,1322.8 L819.6,1322.0 L823.1,1321.1 L826.6,1320.3 L830.1,1319.5 L833.5,1318.7 L837.0,1317.8 L840.5,1317.0 L844.0,1316.1 L847.5,1315.3 L851.0,1314.4 L854.5,1313.5 L857.9,1312.6 L861.4,1311.7 L864.9,1310.8 L868.4,1309.9 L871.9,1309.0 L875.4,1308.0 L878.9,1307.1 L882.3,1306.1 L885.8,1305.1 L889.3,1304.1 L892.8,1303.1 L896.3,1302.1 L899.8,1301.0 L903.3,1299.9 L906.7,1298.9 L910.2,1297.8 L913.7,1296.7 L917.2,1295.5 L920.7,1294.4 L924.2,1293.2 L927.7,1292.0 L931.1,1290.8 L934.6,1289.5 L938.1,1288.3 L941.6,1287.0 L945.1,1285.7 L948.6,1284.4 L952.1,1283.0 L955.5,1281.6 L959.0,1280.2 L962.5,1278.8 L966.0,1277.4 L969.5,1275.9 L973.0,1274.4 L976.5,1272.8 L979.9,1271.3 L983.4,1269.7 L986.9,1268.1 L990.4,1266.4 L993.9,1264.7 L997.4,1263.0 L1000.9,1261.3 L1004.3,1259.5 L1007.8,1257.7 L1011.3,1255.9 L1014.8,1254.0 L1018.3,1252.1 L1021.8,1250.1 L1025.2,1248.2 L1028.7,1246.2 L1032.2,1244.1 L1035.7,1242.0 L1039.2,1239.9 L1042.7,1237.8 L1046.2,1235.6 L1049.6,1233.3 L1053.1,1231.1 L1056.6,1228.8 L1060.1,1226.5 L1063.6,1224.1 L1067.1,1221.7 L1070.6,1219.3 L1074.0,1216.9 L1077.5,1214.4 L1081.0,1211.8 L1084.5,1209.3 L1088.0,1206.7 L1091.5,1204.1 L1095.0,1201.5 L1098.4,1198.8 L1101.9,1196.1 L1105.4,1193.4 L1108.9,1190.6 L1112.4,1187.8 L1115.9,1185.0 L1119.4,1182.1 L1122.8,1179.2 L1126.3,1176.3 L1129.8,1173.4 L1133.3,1170.4 L1136.8,1167.4 L1140.3,1164.4 L1143.8,1161.4 L1147.2,1158.3 L1150.7,1155.2 L1154.2,1152.1 L1157.7,1148.9 L1161.2,1145.8 L1164.7,1142.6 L1168.2,1139.3 L1171.6,1136.1 L1175.1,1132.8 L1178.6,1129.5 L1182.1,1126.2 L1185.6,1122.8 L1189.1,1119.5 L1192.6,1116.1 L1196.0,1112.7 L1199.5,1109.2 L1203.0,1105.7 L1206.5,1102.3 L1210.0,1098.8 L1213.5,1095.2 L1217.0,1091.7 L1220.4,1088.1 L1223.9,1084.5 L1227.4,1080.9 L1230.9,1077.3 L1234.4,1073.6 L1237.9,1069.9 L1241.3,1066.2 L1244.8,1062.4 L1248.3,1058.6 L1251.8,1054.8 L1255.3,1051.0 L1258.8,1047.1 L1262.3,1043.2 L1265.7,1039.3 L1269.2,1035.3 L1272.7,1031.3 L1276.2,1027.2 L1279.7,1023.1 L1283.2,1019.0 L1286.7,1014.8 L1290.1,1010.6 L1293.6,1006.4 L1297.1,1002.1 L1300.6,997.7 L1304.1,993.3 L1307.6,988.9 L1311.1,984.4 L1314.5,979.9 L1318.0,975.3 L1321.5,970.7 L1325.0,966.0 L1328.5,961.3 L1332.0,956.5 L1335.5,951.6 L1338.9,946.7 L1342.4,941.8 L1345.9,936.8 L1349.4,931.7 L1352.9,926.6 L1356.4,921.4 L1359.9,916.1 L1363.3,910.8 L1366.8,905.4 L1370.3,900.0 L1373.8,894.5 L1377.3,888.9 L1380.8,883.2 L1384.3,877.5 L1387.7,871.7 L1391.2,865.9 L1394.7,860.0 L1398.2,853.9 L1401.7,847.9 L1405.2,841.7 L1408.7,835.5 L1412.1,829.2 L1415.6,822.8 L1419.1,816.4 L1422.6,809.9 L1426.1,803.3 L1429.6,796.7 L1433.1,789.9 L1436.5,783.2 L1440.0,776.4 L1443.5,769.5 L1447.0,762.5 L1450.5,755.5 L1454.0,748.5 L1457.4,741.4 L1460.9,734.2 L1464.4,727.0 L1467.9,719.8 L1471.4,712.5 L1474.9,705.2 L1478.4,697.8 L1481.8,690.4 L1485.3,683.0 L1488.8,675.5 L1492.3,668.0 L1495.8,660.5 L1499.3,652.9 L1502.8,645.4 L1506.2,637.8 L1509.7,630.1 L1513.2,622.5 L1516.7,614.8 L1520.2,607.1 L1523.7,599.4 L1527.2,591.7 L1530.6,584.0 L1534.1,576.2 L1537.6,568.5 L1541.1,560.7 L1544.6,553.0 L1548.1,545.2 L1551.6,537.5 L1555.0,529.7 L1558.5,522.0 L1562.0,514.2 L1565.5,506.5 L1569.0,498.7 L1572.5,491.0 L1576.0,483.3 L1579.4,475.6 L1582.9,468.0 L1586.4,460.3 L1589.9,452.7 L1593.4,445.0 L1596.9,437.5 L1600.4,429.9 L1603.8,422.4 L1607.3,414.8 L1610.8,407.4 L1614.3,399.9 L1617.8,392.5 L1621.3,385.1 L1624.8,377.8 L1628.2,370.5 L1631.7,363.3 L1635.2,356.1 L1638.7,348.9 L1642.2,341.8 L1645.7,334.7 L1649.1,327.7 L1652.6,320.7 L1656.1,313.8 L1659.6,307.0 L1663.1,300.2 L1666.6,293.4 L1670.1,286.7 L1673.5,280.1 L1677.0,273.6 L1680.5,267.1 L1684.0,260.7 L1687.5,254.3 L1691.0,248.1 L1694.5,241.9 L1697.9,235.8 L1701.4,229.7 L1704.9,223.7 L1708.4,217.9 L1711.9,212.1 L1715.4,206.3 L1718.9,200.7 L1722.3,195.2 L1725.8,189.7 L1729.3,184.4 L1732.8,179.1 L1736.3,173.9 L1739.8,168.8 L1743.3,163.9 L1746.7,159.0 L1750.2,154.2 L1753.7,149.5 L1757.2,145.0 L1760.7,140.5 L1764.2,136.2 L1767.7,131.9 L1771.1,127.8 L1774.6,123.8 L1778.1,119.9 L1781.6,116.2 L1785.1,112.5 L1788.6,109.0 L1792.1,105.6 L1795.5,102.3 L1799.0,99.1 L1802.5,96.0 L1806.0,93.1 L1809.4,90.2 L1812.9,87.5 L1816.3,84.9 L1819.7,82.3 L1823.2,79.9 L1826.6,77.6 L1830.0,75.3 L1833.4,73.2 L1836.7,71.2 L1840.1,69.2 L1843.4,67.3 L1846.7,65.6 L1850.0,63.9 L1853.2,62.2 L1856.5,60.7 L1859.7,59.2 L1862.9,57.9 L1866.1,56.5 L1869.2,55.3 L1872.3,54.1 L1875.4,53.0 L1878.4,52.0 L1881.4,51.0 L1884.4,50.1 L1887.3,49.2 L1890.3,48.4 L1893.1,47.6 L1896.0,46.9 L1898.7,46.3 L1901.5,45.7 L1904.2,45.1 L1906.9,44.6 L1909.5,44.1 L1912.0,43.6 L1914.6,43.2 L1917.1,42.9 L1919.5,42.5 L1921.9,42.2 L1924.2,41.9 L1926.5,41.7 L1928.7,41.4 L1930.8,41.2 L1933.0,41.0 L1935.0,40.8 L1937.0,40.7 L1938.9,40.5 L1940.8,40.4 L1942.6,40.2 L1944.4,40.1 L1946.0,40.0 L1947.7,39.9 L1949.2,39.7 L1950.7,39.6 L1952.2,39.5 L1953.5,39.4 L1954.9,39.3 L1956.1,39.2 L1957.3,39.1 L1958.5,39.1 L1959.6,39.0 L1960.7,38.9 L1961.7,38.8 L1962.7,38.8 L1963.6,38.7 L1964.5,38.6 L1965.3,38.6 L1966.1,38.5 L1966.8,38.4 L1967.5,38.4 L1968.2,38.3 L1968.8,38.3 L1969.4,38.3 L1969.9,38.2 L1970.4,38.2 L1970.9,38.1 L1971.3,38.1 L1971.8,38.1 L1972.1,38.1 L1972.5,38.0 L1972.8,38.0 L1973.1,38.0 L1973.4,38.0 L1973.6,37.9 L1973.9,37.9 L1974.1,37.9 L1974.2,37.9 L1974.4,37.9 L1974.5,37.9 L1974.7,37.9 L1974.8,37.9 L1974.9,37.9 L1974.9,37.8 L1975.0,37.8 L1975.1,37.8 L1975.1,37.8 L1975.1,37.8 L1975.2,37.8 L1975.2,37.8 L1975.2,37.8 L1975.2,37.8 L1975.2,37.8 L1975.2,37.8 L1975.2,37.8" fill="none" stroke="#0000ff" stroke-width="2.4" stroke-linejoin="round"/>
<polygon points="267.0,1368.6 287.5,1389.6 267.0,1410.6 246.5,1389.6" fill="#0000ff"/>
<polygon points="456.8,1354.3 477.3,1375.3 456.8,1396.3 436.3,1375.3" fill="#0000ff"/>
<polygon points="646.6,1335.9 667.1,1356.9 646.6,1377.9 626.1,1356.9" fill="#0000ff"/>
<polygon points="836.4,1300.4 856.9,1321.4 836.4,1342.4 815.9,1321.4" fill="#0000ff"/>
<polygon points="1026.2,1244.3 1046.7,1265.3 1026.2,1286.3 1005.7,1265.3" fill="#0000ff"/>
<polygon points="1216.0,1082.1 1236.5,1103.1 1216.0,1124.1 1195.5,1103.1" fill="#0000ff"/>
<polygon points="1405.8,857.2 1426.3,878.2 1405.8,899.2 1385.3,878.2" fill="#0000ff"/>
<polygon points="1595.6,406.8 1616.1,427.8 1595.6,448.8 1575.1,427.8" fill="#0000ff"/>
<polygon points="1785.4,30.8 1805.9,51.8 1785.4,72.8 1764.9,51.8" fill="#0000ff"/>
<polygon points="1975.2,16.8 1995.7,37.8 1975.2,58.8 1954.7,37.8" fill="#0000ff"/>
<path d="M267.0,1389.4 L267.0,1389.4 L267.0,1389.4 L267.0,1389.4 L267.0,1389.4 L267.0,1389.4 L267.1,1389.4 L267.1,1389.4 L267.1,1389.4 L267.2,1389.4 L267.3,1389.4 L267.3,1389.4 L267.4,1389.4 L267.6,1389.4 L267.7,1389.4 L267.9,1389.4 L268.0,1389.4 L268.2,1389.3 L268.5,1389.3 L268.7,1389.3 L269.0,1389.3 L269.4,1389.3 L269.7,1389.2 L270.1,1389.2 L270.5,1389.2 L271.0,1389.1 L271.5,1389.1 L272.0,1389.1 L272.6,1389.0 L273.2,1389.0 L273.9,1388.9 L274.6,1388.9 L275.3,1388.8 L276.1,1388.7 L277.0,1388.7 L277.9,1388.6 L278.9,1388.5 L279.9,1388.5 L281.0,1388.4 L282.1,1388.3 L283.3,1388.2 L284.5,1388.1 L285.8,1388.0 L287.2,1387.9 L288.7,1387.8 L290.2,1387.7 L291.8,1387.5 L293.4,1387.4 L295.1,1387.3 L296.9,1387.1 L298.8,1387.0 L300.7,1386.9 L302.8,1386.7 L304.8,1386.5 L307.0,1386.4 L309.2,1386.2 L311.6,1386.0 L313.9,1385.8 L316.4,1385.7 L318.9,1385.5 L321.4,1385.3 L324.0,1385.1 L326.7,1384.9 L329.5,1384.7 L332.3,1384.5 L335.1,1384.3 L338.0,1384.0 L341.0,1383.8 L344.0,1383.6 L347.0,1383.4 L350.1,1383.2 L353.3,1382.9 L356.5,1382.7 L359.7,1382.5 L363.0,1382.3 L366.3,1382.0 L369.6,1381.8 L373.0,1381.6 L376.4,1381.3 L379.9,1381.1 L383.4,1380.9 L386.9,1380.6 L390.4,1380.4 L394.0,1380.2 L397.6,1380.0 L401.2,1379.7 L404.9,1379.5 L408.5,1379.3 L412.2,1379.0 L415.9,1378.8 L419.7,1378.6 L423.4,1378.4 L427.1,1378.2 L430.9,1377.9 L434.7,1377.7 L438.5,1377.5 L442.2,1377.3 L446.0,1377.1 L449.8,1376.9 L453.6,1376.7 L457.4,1376.5 L461.2,1376.3 L465.0,1376.2 L468.8,1376.0 L472.6,1375.8 L476.4,1375.6 L480.2,1375.5 L484.1,1375.3 L487.9,1375.1 L491.7,1375.0 L495.5,1374.8 L499.3,1374.6 L503.1,1374.5 L506.9,1374.3 L510.7,1374.2 L514.5,1374.0 L518.3,1373.9 L522.1,1373.7 L525.9,1373.6 L529.7,1373.4 L533.5,1373.3 L537.3,1373.2 L541.1,1373.0 L544.9,1372.9 L548.7,1372.7 L552.5,1372.6 L556.3,1372.4 L560.1,1372.3 L563.9,1372.1 L567.7,1372.0 L571.5,1371.8 L575.3,1371.7 L579.1,1371.5 L582.9,1371.4 L586.7,1371.2 L590.5,1371.1 L594.3,1370.9 L598.1,1370.8 L601.9,1370.6 L605.7,1370.4 L609.5,1370.3 L613.3,1370.1 L617.1,1369.9 L620.9,1369.7 L624.7,1369.5 L628.5,1369.4 L632.3,1369.2 L636.1,1369.0 L639.9,1368.8 L643.7,1368.6 L647.6,1368.4 L651.4,1368.1 L655.2,1367.9 L659.0,1367.7 L662.8,1367.5 L666.6,1367.2 L670.4,1367.0 L674.2,1366.8 L678.0,1366.5 L681.8,1366.2 L685.6,1366.0 L689.4,1365.7 L693.2,1365.4 L697.0,1365.2 L700.8,1364.9 L704.6,1364.6 L708.4,1364.3 L712.2,1364.0 L716.0,1363.7 L719.8,1363.3 L723.6,1363.0 L727.4,1362.7 L731.2,1362.4 L735.0,1362.0 L738.8,1361.7 L742.6,1361.3 L746.4,1360.9 L750.2,1360.5 L754.0,1360.2 L757.8,1359.8 L761.6,1359.4 L765.4,1359.0 L769.2,1358.5 L773.0,1358.1 L776.8,1357.7 L780.6,1357.3 L784.4,1356.8 L788.2,1356.4 L792.0,1355.9 L795.8,1355.4 L799.6,1354.9 L803.4,1354.4 L807.2,1353.9 L811.1,1353.4 L814.9,1352.9 L818.7,1352.4 L822.5,1351.8 L826.3,1351.3 L830.1,1350.7 L833.9,1350.2 L837.7,1349.6 L841.5,1349.0 L845.3,1348.4 L849.1,1347.8 L852.9,1347.2 L856.7,1346.6 L860.5,1345.9 L864.3,1345.3 L868.1,1344.6 L871.9,1343.9 L875.7,1343.2 L879.5,1342.5 L883.3,1341.8 L887.1,1341.0 L890.9,1340.2 L894.7,1339.5 L898.5,1338.7 L902.3,1337.8 L906.1,1337.0 L909.9,1336.1 L913.7,1335.3 L917.5,1334.4 L921.3,1333.4 L925.1,1332.5 L928.9,1331.5 L932.7,1330.5 L936.5,1329.5 L940.3,1328.5 L944.1,1327.4 L947.9,1326.3 L951.7,1325.2 L955.5,1324.1 L959.3,1322.9 L963.1,1321.7 L966.9,1320.5 L970.7,1319.2 L974.6,1317.9 L978.4,1316.6 L982.2,1315.3 L986.0,1313.9 L989.8,1312.5 L993.6,1311.1 L997.4,1309.6 L1001.2,1308.1 L1005.0,1306.5 L1008.8,1305.0 L1012.6,1303.4 L1016.4,1301.7 L1020.2,1300.0 L1024.0,1298.3 L1027.8,1296.6 L1031.6,1294.8 L1035.4,1293.0 L1039.2,1291.1 L1043.0,1289.2 L1046.8,1287.3 L1050.6,1285.3 L1054.3,1283.3 L1058.1,1281.3 L1061.9,1279.3 L1065.7,1277.2 L1069.4,1275.1 L1073.2,1273.0 L1076.9,1270.8 L1080.6,1268.7 L1084.4,1266.5 L1088.1,1264.3 L1091.8,1262.1 L1095.4,1259.8 L1099.1,1257.6 L1102.7,1255.3 L1106.4,1253.0 L1110.0,1250.7 L1113.6,1248.4 L1117.2,1246.1 L1120.8,1243.7 L1124.3,1241.4 L1127.8,1239.0 L1131.3,1236.7 L1134.8,1234.3 L1138.3,1231.9 L1141.7,1229.6 L1145.1,1227.2 L1148.5,1224.8 L1151.9,1222.5 L1155.2,1220.1 L1158.5,1217.7 L1161.8,1215.4 L1165.1,1213.0 L1168.3,1210.7 L1171.5,1208.3 L1174.6,1206.0 L1177.8,1203.7 L1180.9,1201.3 L1183.9,1199.0 L1187.0,1196.8 L1190.0,1194.5 L1192.9,1192.2 L1195.9,1190.0 L1198.8,1187.7 L1201.6,1185.5 L1204.4,1183.4 L1207.2,1181.2 L1209.9,1179.0 L1212.6,1176.9 L1215.3,1174.8 L1218.0,1172.7 L1220.6,1170.6 L1223.1,1168.5 L1225.7,1166.5 L1228.2,1164.4 L1230.7,1162.4 L1233.1,1160.4 L1235.5,1158.4 L1237.9,1156.4 L1240.3,1154.5 L1242.6,1152.5 L1244.9,1150.6 L1247.2,1148.7 L1249.5,1146.7 L1251.7,1144.8 L1254.0,1142.9 L1256.2,1141.1 L1258.3,1139.2 L1260.5,1137.3 L1262.6,1135.5 L1264.7,1133.6 L1266.8,1131.8 L1268.9,1129.9 L1271.0,1128.1 L1273.1,1126.3 L1275.1,1124.5 L1277.1,1122.7 L1279.1,1120.9 L1281.1,1119.1 L1283.1,1117.3 L1285.1,1115.5 L1287.1,1113.7 L1289.0,1111.9 L1291.0,1110.2 L1292.9,1108.4 L1294.8,1106.6 L1296.7,1104.9 L1298.7,1103.1 L1300.6,1101.3 L1302.5,1099.6 L1304.4,1097.8 L1306.3,1096.0 L1308.2,1094.3 L1310.1,1092.5 L1312.0,1090.7 L1313.9,1088.9 L1315.8,1087.2 L1317.7,1085.4 L1319.6,1083.6 L1321.5,1081.8 L1323.5,1080.0 L1325.4,1078.1 L1327.3,1076.3 L1329.2,1074.4 L1331.2,1072.5 L1333.1,1070.5 L1335.1,1068.6 L1337.0,1066.6 L1339.0,1064.6 L1341.0,1062.5 L1343.0,1060.4 L1345.0,1058.3 L1347.0,1056.1 L1349.1,1053.9 L1351.1,1051.6 L1353.2,1049.3 L1355.3,1046.9 L1357.4,1044.5 L1359.5,1042.0 L1361.7,1039.5 L1363.8,1036.9 L1366.0,1034.2 L1368.2,1031.5 L1370.4,1028.7 L1372.7,1025.8 L1375.0,1022.9 L1377.2,1019.9 L1379.6,1016.8 L1381.9,1013.6 L1384.3,1010.4 L1386.7,1007.0 L1389.1,1003.6 L1391.6,1000.1 L1394.0,996.5 L1396.6,992.8 L1399.1,989.0 L1401.7,985.1 L1404.3,981.1 L1406.9,977.0 L1409.6,972.8 L1412.3,968.5 L1415.1,964.1 L1417.8,959.6 L1420.7,955.0 L1423.5,950.2 L1426.4,945.4 L1429.4,940.4 L1432.3,935.3 L1435.3,930.1 L1438.4,924.8 L1441.4,919.3 L1444.5,913.8 L1447.7,908.1 L1450.8,902.4 L1454.0,896.5 L1457.3,890.5 L1460.5,884.5 L1463.8,878.3 L1467.1,872.0 L1470.5,865.7 L1473.8,859.2 L1477.2,852.6 L1480.7,845.9 L1484.1,839.2 L1487.6,832.3 L1491.1,825.4 L1494.6,818.3 L1498.1,811.2 L1501.6,804.0 L1505.2,796.7 L1508.8,789.3 L1512.4,781.8 L1516.0,774.2 L1519.7,766.6 L1523.3,758.8 L1527.0,751.0 L1530.7,743.1 L1534.4,735.1 L1538.1,727.1 L1541.8,718.9 L1545.5,710.7 L1549.3,702.5 L1553.0,694.1 L1556.8,685.7 L1560.5,677.2 L1564.3,668.6 L1568.1,660.0 L1571.9,651.2 L1575.7,642.5 L1579.4,633.6 L1583.2,624.7 L1587.0,615.8 L1590.8,606.7 L1594.6,597.6 L1598.5,588.5 L1602.3,579.3 L1606.1,570.0 L1609.9,560.7 L1613.7,551.4 L1617.5,542.0 L1621.3,532.6 L1625.1,523.2 L1628.9,513.7 L1632.7,504.2 L1636.5,494.7 L1640.3,485.3 L1644.1,475.8 L1647.9,466.3 L1651.7,456.8 L1655.5,447.4 L1659.3,437.9 L1663.1,428.5 L1666.9,419.1 L1670.7,409.8 L1674.5,400.5 L1678.3,391.2 L1682.1,382.0 L1685.9,372.8 L1689.7,363.7 L1693.5,354.7 L1697.3,345.8 L1701.1,336.9 L1704.9,328.1 L1708.7,319.3 L1712.5,310.7 L1716.3,302.2 L1720.1,293.7 L1723.9,285.4 L1727.7,277.2 L1731.5,269.1 L1735.3,261.1 L1739.1,253.3 L1742.9,245.5 L1746.7,237.9 L1750.5,230.5 L1754.3,223.2 L1758.1,216.0 L1762.0,209.0 L1765.8,202.2 L1769.6,195.5 L1773.4,189.0 L1777.2,182.7 L1781.0,176.6 L1784.8,170.6 L1788.6,164.9 L1792.4,159.3 L1796.2,153.9 L1800.0,148.7 L1803.7,143.7 L1807.5,138.8 L1811.3,134.1 L1815.1,129.6 L1818.8,125.3 L1822.5,121.1 L1826.3,117.1 L1830.0,113.2 L1833.7,109.5 L1837.3,105.9 L1841.0,102.5 L1844.6,99.2 L1848.2,96.0 L1851.8,93.0 L1855.3,90.1 L1858.8,87.4 L1862.3,84.7 L1865.8,82.2 L1869.2,79.8 L1872.6,77.6 L1875.9,75.4 L1879.2,73.3 L1882.5,71.4 L1885.7,69.5 L1888.9,67.7 L1892.1,66.1 L1895.2,64.5 L1898.2,63.0 L1901.2,61.6 L1904.2,60.2 L1907.1,59.0 L1909.9,57.8 L1912.7,56.7 L1915.5,55.6 L1918.2,54.6 L1920.8,53.7 L1923.3,52.8 L1925.8,52.0 L1928.3,51.2 L1930.6,50.5 L1933.0,49.8 L1935.2,49.2 L1937.4,48.6 L1939.4,48.0 L1941.5,47.4 L1943.4,46.9 L1945.3,46.4 L1947.1,45.9 L1948.8,45.4 L1950.4,45.0 L1952.0,44.5 L1953.5,44.1 L1955.0,43.7 L1956.4,43.4 L1957.7,43.0 L1958.9,42.7 L1960.1,42.3 L1961.2,42.0 L1962.3,41.7 L1963.3,41.5 L1964.3,41.2 L1965.2,41.0 L1966.1,40.7 L1966.9,40.5 L1967.6,40.3 L1968.3,40.1 L1969.0,39.9 L1969.6,39.8 L1970.2,39.6 L1970.7,39.5 L1971.2,39.3 L1971.7,39.2 L1972.1,39.1 L1972.5,39.0 L1972.8,38.9 L1973.2,38.8 L1973.5,38.7 L1973.7,38.6 L1974.0,38.6 L1974.2,38.5 L1974.3,38.5 L1974.5,38.4 L1974.6,38.4 L1974.8,38.4 L1974.9,38.3 L1974.9,38.3 L1975.0,38.3 L1975.1,38.3 L1975.1,38.3 L1975.1,38.3 L1975.2,38.3 L1975.2,38.2 L1975.2,38.2 L1975.2,38.2 L1975.2,38.2 L1975.2,38.2" fill="none" stroke="#0000ff" stroke-width="2.4" stroke-linejoin="round"/>
<polygon points="267.0,1370.1 285.8,1389.4 267.0,1408.7 248.2,1389.4" fill="#fff" stroke="#0000ff" stroke-width="2.2"/>
<polygon points="456.8,1355.6 475.6,1374.9 456.8,1394.2 438.0,1374.9" fill="#fff" stroke="#0000ff" stroke-width="2.2"/>
<polygon points="646.6,1351.1 665.4,1370.4 646.6,1389.7 627.8,1370.4" fill="#fff" stroke="#0000ff" stroke-width="2.2"/>
<polygon points="836.4,1334.6 855.2,1353.9 836.4,1373.2 817.6,1353.9" fill="#fff" stroke="#0000ff" stroke-width="2.2"/>
<polygon points="1026.2,1293.5 1045.0,1312.8 1026.2,1332.1 1007.4,1312.8" fill="#fff" stroke="#0000ff" stroke-width="2.2"/>
<polygon points="1216.0,1159.3 1234.8,1178.6 1216.0,1197.9 1197.2,1178.6" fill="#fff" stroke="#0000ff" stroke-width="2.2"/>
<polygon points="1310.9,1073.2 1329.7,1092.5 1310.9,1111.8 1292.1,1092.5" fill="#fff" stroke="#0000ff" stroke-width="2.2"/>
<polygon points="1405.8,982.7 1424.6,1002.0 1405.8,1021.3 1387.0,1002.0" fill="#fff" stroke="#0000ff" stroke-width="2.2"/>
<polygon points="1595.6,600.8 1614.4,620.1 1595.6,639.4 1576.8,620.1" fill="#fff" stroke="#0000ff" stroke-width="2.2"/>
<polygon points="1785.4,70.6 1804.2,89.9 1785.4,109.2 1766.6,89.9" fill="#fff" stroke="#0000ff" stroke-width="2.2"/>
<polygon points="1975.2,18.9 1994.0,38.2 1975.2,57.5 1956.4,38.2" fill="#fff" stroke="#0000ff" stroke-width="2.2"/>
</g>
<text transform="translate(220.5,1428.3) scale(0.920,1)" font-size="63" text-anchor="end">0</text>
<text transform="translate(220.5,1155.7) scale(0.930,1)" font-size="63" text-anchor="end">20</text>
<text transform="translate(220.5,883.1) scale(0.930,1)" font-size="63" text-anchor="end">40</text>
<text transform="translate(220.5,610.5) scale(0.930,1)" font-size="63" text-anchor="end">60</text>
<text transform="translate(220.5,337.9) scale(0.885,1)" font-size="63" text-anchor="end">80</text>
<text transform="translate(220.5,65.3) scale(0.905,1)" font-size="63" text-anchor="end">100</text>
<text transform="translate(267.3,1501.3) scale(0.94,1)" font-size="63" text-anchor="middle">90</text>
<text transform="translate(458.2,1501.3) scale(0.89,1)" font-size="63" text-anchor="middle">100</text>
<text transform="translate(648.0,1501.3) scale(0.89,1)" font-size="63" text-anchor="middle">110</text>
<text transform="translate(837.8,1501.3) scale(0.89,1)" font-size="63" text-anchor="middle">120</text>
<text transform="translate(1027.6,1501.3) scale(0.89,1)" font-size="63" text-anchor="middle">130</text>
<text transform="translate(1217.4,1501.3) scale(0.89,1)" font-size="63" text-anchor="middle">140</text>
<text transform="translate(1407.2,1501.3) scale(0.89,1)" font-size="63" text-anchor="middle">150</text>
<text transform="translate(1597.0,1501.3) scale(0.89,1)" font-size="63" text-anchor="middle">160</text>
<text transform="translate(1786.8,1501.3) scale(0.89,1)" font-size="63" text-anchor="middle">170</text>
<text transform="translate(1976.6,1501.3) scale(0.89,1)" font-size="63" text-anchor="middle">180</text>
<text x="842" y="1610.7" font-size="72" textLength="561" lengthAdjust="spacing">Temperature (°C)</text>
<text transform="translate(95.5,1037.7) rotate(-90)" font-size="72" textLength="633" lengthAdjust="spacing">HCOOH conversion</text>
<path d="M286,78.5 H324 M365,78.5 H403" stroke="#000000" stroke-width="2.8"/>
<circle cx="344.6" cy="77.2" r="16.9" fill="#000"/>
<text x="418.3" y="94.7" font-size="50" textLength="398.6" lengthAdjust="spacing">1 st Ca(19.3)-SiO</text>
<text x="817.6" y="109.7" font-size="37">2</text>
<path d="M286,152.0 H324 M365,152.0 H403" stroke="#000000" stroke-width="2.8"/>
<circle cx="344.6" cy="152.0" r="15.1" fill="#fff" stroke="#000" stroke-width="2.6"/>
<text x="416.3" y="168.2" font-size="50" textLength="419.4" lengthAdjust="spacing">2 nd Ca(19.3)-SiO</text>
<text x="836.4" y="183.2" font-size="37">2</text>
<path d="M286,225.5 H324 M365,225.5 H403" stroke="#008000" stroke-width="2.8"/>
<polygon points="344.6,206.8 340.4,219.7 326.8,219.7 337.8,227.7 333.6,240.6 344.6,232.6 355.6,240.6 351.4,227.7 362.4,219.7 348.8,219.7" fill="#008000"/>
<text x="418.3" y="241.7" font-size="50" textLength="371.5" lengthAdjust="spacing">1 st Ca(6.8)-SiO</text>
<text x="790.5" y="256.7" font-size="37">2</text>
<path d="M286,301.0 H324 M365,301.0 H403" stroke="#008000" stroke-width="2.8"/>
<polygon points="344.6,283.6 340.7,295.6 328.1,295.6 338.3,303.1 334.4,315.1 344.6,307.6 354.8,315.1 350.9,303.1 361.1,295.6 348.5,295.6" fill="#fff" stroke="#008000" stroke-width="2.6" stroke-linejoin="round"/>
<text x="416.3" y="317.2" font-size="50" textLength="392.4" lengthAdjust="spacing">2 nd Ca(6.8)-SiO</text>
<text x="809.4" y="332.2" font-size="37">2</text>
<path d="M286,375.0 H403" stroke="#0000ff" stroke-width="2.8"/>
<polygon points="344.6,354.7 362.4,375.0 344.6,395.3 326.8,375.0" fill="#0000ff"/>
<text x="418.3" y="391.2" font-size="50" textLength="371.5" lengthAdjust="spacing">1 st Ca(3.4)-SiO</text>
<text x="790.5" y="406.2" font-size="37">2</text>
<path d="M286,448.5 H403" stroke="#0000ff" stroke-width="2.8"/>
<polygon points="344.6,428.2 364.8,448.5 344.6,468.8 324.4,448.5" fill="#fff" stroke="#0000ff" stroke-width="2.2"/>
<text x="416.3" y="464.7" font-size="50" textLength="392.4" lengthAdjust="spacing">2 nd Ca(3.4)-SiO</text>
<text x="809.4" y="479.7" font-size="37">2</text>
<path d="M286,524.5 H324 M365,524.5 H403" stroke="#ff0000" stroke-width="2.8"/>
<rect x="329.6" y="507.2" width="30" height="30" fill="#ff0000"/>
<text x="418.3" y="540.7" font-size="50" textLength="182.9" lengthAdjust="spacing">1 st SiO</text>
<text x="601.9" y="555.7" font-size="37">2</text>
<path d="M286,597.8 H324 M365,597.8 H403" stroke="#ff0000" stroke-width="2.8"/>
<rect x="331.0" y="584.2" width="27.2" height="27.2" fill="#fff" stroke="#ff0000" stroke-width="2.5"/>
<text x="416.3" y="614.0" font-size="50" textLength="201.1" lengthAdjust="spacing">2 nd SiO</text>
<text x="618.1" y="629.0" font-size="37">2</text>
</svg></body></html>
